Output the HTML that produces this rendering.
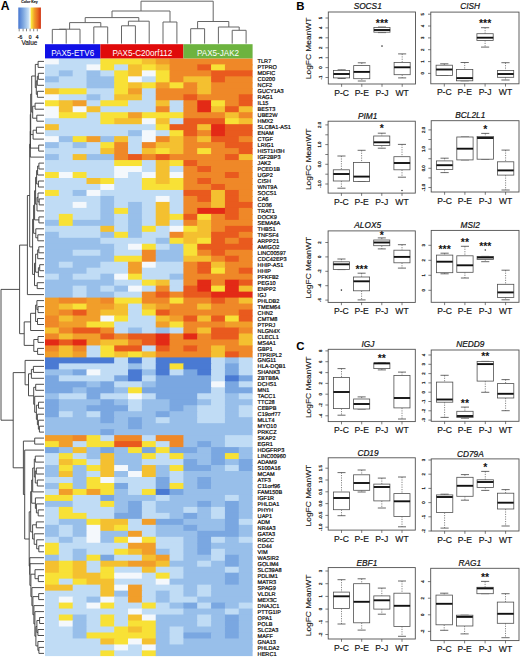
<!DOCTYPE html>
<html><head><meta charset="utf-8"><style>
html,body{margin:0;padding:0;background:#fff;width:520px;height:657px;overflow:hidden}
svg{display:block;font-family:"Liberation Sans",sans-serif}
</style></head><body>
<svg width="520" height="657" viewBox="0 0 520 657">
<rect width="520" height="657" fill="#fff"/>
<rect x="45.00" y="58.40" width="14.44" height="6.98" fill="#f4f8fc"/><rect x="58.84" y="58.40" width="42.12" height="6.98" fill="#c0dcf5"/><rect x="100.36" y="58.40" width="42.12" height="6.98" fill="#f8e136"/><rect x="141.88" y="58.40" width="14.44" height="6.98" fill="#f4c030"/><rect x="155.72" y="58.40" width="14.44" height="6.98" fill="#f19e2a"/><rect x="169.56" y="58.40" width="83.04" height="6.98" fill="#ef8828"/><rect x="45.00" y="64.38" width="42.12" height="6.98" fill="#c0dcf5"/><rect x="86.52" y="64.38" width="14.44" height="6.98" fill="#f4f8fc"/><rect x="100.36" y="64.38" width="14.44" height="6.98" fill="#f8e136"/><rect x="114.20" y="64.38" width="14.44" height="6.98" fill="#c0dcf5"/><rect x="128.04" y="64.38" width="14.44" height="6.98" fill="#f4c030"/><rect x="141.88" y="64.38" width="14.44" height="6.98" fill="#f8e136"/><rect x="155.72" y="64.38" width="14.44" height="6.98" fill="#f4c030"/><rect x="169.56" y="64.38" width="28.28" height="6.98" fill="#ef8828"/><rect x="197.24" y="64.38" width="14.44" height="6.98" fill="#e95a1e"/><rect x="211.08" y="64.38" width="14.44" height="6.98" fill="#f8e136"/><rect x="224.92" y="64.38" width="27.68" height="6.98" fill="#ef8828"/><rect x="45.00" y="70.36" width="14.44" height="6.98" fill="#c0dcf5"/><rect x="58.84" y="70.36" width="14.44" height="6.98" fill="#98bfea"/><rect x="72.68" y="70.36" width="14.44" height="6.98" fill="#c0dcf5"/><rect x="86.52" y="70.36" width="14.44" height="6.98" fill="#98bfea"/><rect x="100.36" y="70.36" width="14.44" height="6.98" fill="#c0dcf5"/><rect x="114.20" y="70.36" width="14.44" height="6.98" fill="#f8e136"/><rect x="128.04" y="70.36" width="14.44" height="6.98" fill="#f4c030"/><rect x="141.88" y="70.36" width="14.44" height="6.98" fill="#f4f8fc"/><rect x="155.72" y="70.36" width="14.44" height="6.98" fill="#f8e136"/><rect x="169.56" y="70.36" width="42.12" height="6.98" fill="#ef8828"/><rect x="211.08" y="70.36" width="41.52" height="6.98" fill="#e95a1e"/><rect x="45.00" y="76.34" width="14.44" height="6.98" fill="#98bfea"/><rect x="58.84" y="76.34" width="28.28" height="6.98" fill="#c0dcf5"/><rect x="86.52" y="76.34" width="28.28" height="6.98" fill="#98bfea"/><rect x="114.20" y="76.34" width="14.44" height="6.98" fill="#f8e136"/><rect x="128.04" y="76.34" width="14.44" height="6.98" fill="#f4f8fc"/><rect x="141.88" y="76.34" width="14.44" height="6.98" fill="#c0dcf5"/><rect x="155.72" y="76.34" width="14.44" height="6.98" fill="#f8e136"/><rect x="169.56" y="76.34" width="14.44" height="6.98" fill="#ef8828"/><rect x="183.40" y="76.34" width="28.28" height="6.98" fill="#f4c030"/><rect x="211.08" y="76.34" width="14.44" height="6.98" fill="#e95a1e"/><rect x="224.92" y="76.34" width="27.68" height="6.98" fill="#ef8828"/><rect x="45.00" y="82.32" width="42.12" height="6.98" fill="#c0dcf5"/><rect x="86.52" y="82.32" width="28.28" height="6.98" fill="#98bfea"/><rect x="114.20" y="82.32" width="14.44" height="6.98" fill="#f8e136"/><rect x="128.04" y="82.32" width="14.44" height="6.98" fill="#f4c030"/><rect x="141.88" y="82.32" width="14.44" height="6.98" fill="#f8e136"/><rect x="155.72" y="82.32" width="14.44" height="6.98" fill="#f19e2a"/><rect x="169.56" y="82.32" width="14.44" height="6.98" fill="#f8e136"/><rect x="183.40" y="82.32" width="14.44" height="6.98" fill="#ef8828"/><rect x="197.24" y="82.32" width="14.44" height="6.98" fill="#f4c030"/><rect x="211.08" y="82.32" width="41.52" height="6.98" fill="#ef8828"/><rect x="45.00" y="88.30" width="14.44" height="6.98" fill="#f4c030"/><rect x="58.84" y="88.30" width="28.28" height="6.98" fill="#f8e136"/><rect x="86.52" y="88.30" width="28.28" height="6.98" fill="#c0dcf5"/><rect x="114.20" y="88.30" width="14.44" height="6.98" fill="#f8e136"/><rect x="128.04" y="88.30" width="14.44" height="6.98" fill="#f19e2a"/><rect x="141.88" y="88.30" width="14.44" height="6.98" fill="#c0dcf5"/><rect x="155.72" y="88.30" width="42.12" height="6.98" fill="#ef8828"/><rect x="197.24" y="88.30" width="14.44" height="6.98" fill="#f4c030"/><rect x="211.08" y="88.30" width="41.52" height="6.98" fill="#ef8828"/><rect x="45.00" y="94.28" width="14.44" height="6.98" fill="#f4f8fc"/><rect x="58.84" y="94.28" width="28.28" height="6.98" fill="#c0dcf5"/><rect x="86.52" y="94.28" width="14.44" height="6.98" fill="#98bfea"/><rect x="100.36" y="94.28" width="14.44" height="6.98" fill="#c0dcf5"/><rect x="114.20" y="94.28" width="28.28" height="6.98" fill="#f4c030"/><rect x="141.88" y="94.28" width="14.44" height="6.98" fill="#c0dcf5"/><rect x="155.72" y="94.28" width="28.28" height="6.98" fill="#ef8828"/><rect x="183.40" y="94.28" width="14.44" height="6.98" fill="#e95a1e"/><rect x="197.24" y="94.28" width="42.12" height="6.98" fill="#ef8828"/><rect x="238.76" y="94.28" width="13.84" height="6.98" fill="#e95a1e"/><rect x="45.00" y="100.26" width="14.44" height="6.98" fill="#f8e136"/><rect x="58.84" y="100.26" width="14.44" height="6.98" fill="#f4c030"/><rect x="72.68" y="100.26" width="14.44" height="6.98" fill="#f19e2a"/><rect x="86.52" y="100.26" width="14.44" height="6.98" fill="#c0dcf5"/><rect x="100.36" y="100.26" width="28.28" height="6.98" fill="#f8e136"/><rect x="128.04" y="100.26" width="28.28" height="6.98" fill="#c0dcf5"/><rect x="155.72" y="100.26" width="14.44" height="6.98" fill="#f4c030"/><rect x="169.56" y="100.26" width="14.44" height="6.98" fill="#c0dcf5"/><rect x="183.40" y="100.26" width="14.44" height="6.98" fill="#ef8828"/><rect x="197.24" y="100.26" width="14.44" height="6.98" fill="#e32a16"/><rect x="211.08" y="100.26" width="14.44" height="6.98" fill="#f8e136"/><rect x="224.92" y="100.26" width="14.44" height="6.98" fill="#ef8828"/><rect x="238.76" y="100.26" width="13.84" height="6.98" fill="#e95a1e"/><rect x="45.00" y="106.24" width="14.44" height="6.98" fill="#f4f8fc"/><rect x="58.84" y="106.24" width="14.44" height="6.98" fill="#f4c030"/><rect x="72.68" y="106.24" width="14.44" height="6.98" fill="#f4f8fc"/><rect x="86.52" y="106.24" width="14.44" height="6.98" fill="#f4c030"/><rect x="100.36" y="106.24" width="55.96" height="6.98" fill="#c0dcf5"/><rect x="155.72" y="106.24" width="14.44" height="6.98" fill="#ef8828"/><rect x="169.56" y="106.24" width="14.44" height="6.98" fill="#c0dcf5"/><rect x="183.40" y="106.24" width="14.44" height="6.98" fill="#ef8828"/><rect x="197.24" y="106.24" width="14.44" height="6.98" fill="#e32a16"/><rect x="211.08" y="106.24" width="14.44" height="6.98" fill="#f4c030"/><rect x="224.92" y="106.24" width="14.44" height="6.98" fill="#e95a1e"/><rect x="238.76" y="106.24" width="13.84" height="6.98" fill="#f4c030"/><rect x="45.00" y="112.22" width="14.44" height="6.98" fill="#f4f8fc"/><rect x="58.84" y="112.22" width="28.28" height="6.98" fill="#f8e136"/><rect x="86.52" y="112.22" width="14.44" height="6.98" fill="#c0dcf5"/><rect x="100.36" y="112.22" width="28.28" height="6.98" fill="#f8e136"/><rect x="128.04" y="112.22" width="14.44" height="6.98" fill="#f19e2a"/><rect x="141.88" y="112.22" width="42.12" height="6.98" fill="#f8e136"/><rect x="183.40" y="112.22" width="42.12" height="6.98" fill="#ef8828"/><rect x="224.92" y="112.22" width="14.44" height="6.98" fill="#f4c030"/><rect x="238.76" y="112.22" width="13.84" height="6.98" fill="#ef8828"/><rect x="45.00" y="118.20" width="55.96" height="6.98" fill="#c0dcf5"/><rect x="100.36" y="118.20" width="14.44" height="6.98" fill="#f8e136"/><rect x="114.20" y="118.20" width="28.28" height="6.98" fill="#f4c030"/><rect x="141.88" y="118.20" width="14.44" height="6.98" fill="#f4f8fc"/><rect x="155.72" y="118.20" width="14.44" height="6.98" fill="#f4c030"/><rect x="169.56" y="118.20" width="14.44" height="6.98" fill="#c0dcf5"/><rect x="183.40" y="118.20" width="42.12" height="6.98" fill="#e95a1e"/><rect x="224.92" y="118.20" width="14.44" height="6.98" fill="#f8e136"/><rect x="238.76" y="118.20" width="13.84" height="6.98" fill="#f4c030"/><rect x="45.00" y="124.18" width="14.44" height="6.98" fill="#f4c030"/><rect x="58.84" y="124.18" width="97.48" height="6.98" fill="#c0dcf5"/><rect x="155.72" y="124.18" width="14.44" height="6.98" fill="#f8e136"/><rect x="169.56" y="124.18" width="28.28" height="6.98" fill="#e95a1e"/><rect x="197.24" y="124.18" width="14.44" height="6.98" fill="#f4c030"/><rect x="211.08" y="124.18" width="14.44" height="6.98" fill="#e32a16"/><rect x="224.92" y="124.18" width="27.68" height="6.98" fill="#e95a1e"/><rect x="45.00" y="130.16" width="83.64" height="6.98" fill="#c0dcf5"/><rect x="128.04" y="130.16" width="14.44" height="6.98" fill="#98bfea"/><rect x="141.88" y="130.16" width="14.44" height="6.98" fill="#f4f8fc"/><rect x="155.72" y="130.16" width="14.44" height="6.98" fill="#c0dcf5"/><rect x="169.56" y="130.16" width="14.44" height="6.98" fill="#f8e136"/><rect x="183.40" y="130.16" width="14.44" height="6.98" fill="#e95a1e"/><rect x="197.24" y="130.16" width="14.44" height="6.98" fill="#ef8828"/><rect x="211.08" y="130.16" width="14.44" height="6.98" fill="#e32a16"/><rect x="224.92" y="130.16" width="27.68" height="6.98" fill="#e95a1e"/><rect x="45.00" y="136.14" width="14.44" height="6.98" fill="#f4f8fc"/><rect x="58.84" y="136.14" width="14.44" height="6.98" fill="#98bfea"/><rect x="72.68" y="136.14" width="14.44" height="6.98" fill="#f8e136"/><rect x="86.52" y="136.14" width="14.44" height="6.98" fill="#f19e2a"/><rect x="100.36" y="136.14" width="14.44" height="6.98" fill="#98bfea"/><rect x="114.20" y="136.14" width="14.44" height="6.98" fill="#f4c030"/><rect x="128.04" y="136.14" width="14.44" height="6.98" fill="#c0dcf5"/><rect x="141.88" y="136.14" width="14.44" height="6.98" fill="#f4f8fc"/><rect x="155.72" y="136.14" width="14.44" height="6.98" fill="#ef8828"/><rect x="169.56" y="136.14" width="14.44" height="6.98" fill="#f4c030"/><rect x="183.40" y="136.14" width="14.44" height="6.98" fill="#ef8828"/><rect x="197.24" y="136.14" width="14.44" height="6.98" fill="#f4c030"/><rect x="211.08" y="136.14" width="28.28" height="6.98" fill="#e95a1e"/><rect x="238.76" y="136.14" width="13.84" height="6.98" fill="#ef8828"/><rect x="45.00" y="142.12" width="14.44" height="6.98" fill="#98bfea"/><rect x="58.84" y="142.12" width="14.44" height="6.98" fill="#c0dcf5"/><rect x="72.68" y="142.12" width="14.44" height="6.98" fill="#98bfea"/><rect x="86.52" y="142.12" width="14.44" height="6.98" fill="#c0dcf5"/><rect x="100.36" y="142.12" width="14.44" height="6.98" fill="#f8e136"/><rect x="114.20" y="142.12" width="14.44" height="6.98" fill="#ef8828"/><rect x="128.04" y="142.12" width="14.44" height="6.98" fill="#c0dcf5"/><rect x="141.88" y="142.12" width="14.44" height="6.98" fill="#ef8828"/><rect x="155.72" y="142.12" width="28.28" height="6.98" fill="#f4c030"/><rect x="183.40" y="142.12" width="42.12" height="6.98" fill="#ef8828"/><rect x="224.92" y="142.12" width="27.68" height="6.98" fill="#e95a1e"/><rect x="45.00" y="148.10" width="55.96" height="6.98" fill="#c0dcf5"/><rect x="100.36" y="148.10" width="14.44" height="6.98" fill="#f4c030"/><rect x="114.20" y="148.10" width="14.44" height="6.98" fill="#ef8828"/><rect x="128.04" y="148.10" width="14.44" height="6.98" fill="#c0dcf5"/><rect x="141.88" y="148.10" width="14.44" height="6.98" fill="#f4c030"/><rect x="155.72" y="148.10" width="14.44" height="6.98" fill="#f8e136"/><rect x="169.56" y="148.10" width="14.44" height="6.98" fill="#f4c030"/><rect x="183.40" y="148.10" width="14.44" height="6.98" fill="#ef8828"/><rect x="197.24" y="148.10" width="14.44" height="6.98" fill="#f8e136"/><rect x="211.08" y="148.10" width="28.28" height="6.98" fill="#ef8828"/><rect x="238.76" y="148.10" width="13.84" height="6.98" fill="#e95a1e"/><rect x="45.00" y="154.08" width="14.44" height="6.98" fill="#98bfea"/><rect x="58.84" y="154.08" width="14.44" height="6.98" fill="#c0dcf5"/><rect x="72.68" y="154.08" width="14.44" height="6.98" fill="#f4c030"/><rect x="86.52" y="154.08" width="28.28" height="6.98" fill="#98bfea"/><rect x="114.20" y="154.08" width="14.44" height="6.98" fill="#ef8828"/><rect x="128.04" y="154.08" width="14.44" height="6.98" fill="#e95a1e"/><rect x="141.88" y="154.08" width="14.44" height="6.98" fill="#ef8828"/><rect x="155.72" y="154.08" width="14.44" height="6.98" fill="#e95a1e"/><rect x="169.56" y="154.08" width="55.96" height="6.98" fill="#ef8828"/><rect x="224.92" y="154.08" width="14.44" height="6.98" fill="#e95a1e"/><rect x="238.76" y="154.08" width="13.84" height="6.98" fill="#f4c030"/><rect x="45.00" y="160.06" width="69.80" height="6.98" fill="#c0dcf5"/><rect x="114.20" y="160.06" width="28.28" height="6.98" fill="#f8e136"/><rect x="141.88" y="160.06" width="14.44" height="6.98" fill="#c0dcf5"/><rect x="155.72" y="160.06" width="14.44" height="6.98" fill="#f4c030"/><rect x="169.56" y="160.06" width="14.44" height="6.98" fill="#f8e136"/><rect x="183.40" y="160.06" width="14.44" height="6.98" fill="#e95a1e"/><rect x="197.24" y="160.06" width="55.36" height="6.98" fill="#ef8828"/><rect x="45.00" y="166.04" width="69.80" height="6.98" fill="#c0dcf5"/><rect x="114.20" y="166.04" width="28.28" height="6.98" fill="#f4f8fc"/><rect x="141.88" y="166.04" width="14.44" height="6.98" fill="#c0dcf5"/><rect x="155.72" y="166.04" width="14.44" height="6.98" fill="#f4c030"/><rect x="169.56" y="166.04" width="14.44" height="6.98" fill="#c0dcf5"/><rect x="183.40" y="166.04" width="14.44" height="6.98" fill="#ef8828"/><rect x="197.24" y="166.04" width="14.44" height="6.98" fill="#e95a1e"/><rect x="211.08" y="166.04" width="41.52" height="6.98" fill="#ef8828"/><rect x="45.00" y="172.02" width="14.44" height="6.98" fill="#f8e136"/><rect x="58.84" y="172.02" width="14.44" height="6.98" fill="#f4f8fc"/><rect x="72.68" y="172.02" width="14.44" height="6.98" fill="#f8e136"/><rect x="86.52" y="172.02" width="28.28" height="6.98" fill="#c0dcf5"/><rect x="114.20" y="172.02" width="14.44" height="6.98" fill="#f4f8fc"/><rect x="128.04" y="172.02" width="14.44" height="6.98" fill="#c0dcf5"/><rect x="141.88" y="172.02" width="14.44" height="6.98" fill="#f4f8fc"/><rect x="155.72" y="172.02" width="14.44" height="6.98" fill="#f4c030"/><rect x="169.56" y="172.02" width="14.44" height="6.98" fill="#f4f8fc"/><rect x="183.40" y="172.02" width="42.12" height="6.98" fill="#ef8828"/><rect x="224.92" y="172.02" width="14.44" height="6.98" fill="#e95a1e"/><rect x="238.76" y="172.02" width="13.84" height="6.98" fill="#ef8828"/><rect x="45.00" y="178.00" width="42.12" height="6.98" fill="#c0dcf5"/><rect x="86.52" y="178.00" width="14.44" height="6.98" fill="#f4c030"/><rect x="100.36" y="178.00" width="14.44" height="6.98" fill="#f8e136"/><rect x="114.20" y="178.00" width="28.28" height="6.98" fill="#c0dcf5"/><rect x="141.88" y="178.00" width="14.44" height="6.98" fill="#f8e136"/><rect x="155.72" y="178.00" width="14.44" height="6.98" fill="#f4c030"/><rect x="169.56" y="178.00" width="14.44" height="6.98" fill="#f8e136"/><rect x="183.40" y="178.00" width="14.44" height="6.98" fill="#ef8828"/><rect x="197.24" y="178.00" width="14.44" height="6.98" fill="#e95a1e"/><rect x="211.08" y="178.00" width="41.52" height="6.98" fill="#ef8828"/><rect x="45.00" y="183.98" width="55.96" height="6.98" fill="#c0dcf5"/><rect x="100.36" y="183.98" width="14.44" height="6.98" fill="#f4f8fc"/><rect x="114.20" y="183.98" width="28.28" height="6.98" fill="#c0dcf5"/><rect x="141.88" y="183.98" width="42.12" height="6.98" fill="#f8e136"/><rect x="183.40" y="183.98" width="28.28" height="6.98" fill="#ef8828"/><rect x="211.08" y="183.98" width="14.44" height="6.98" fill="#e95a1e"/><rect x="224.92" y="183.98" width="27.68" height="6.98" fill="#ef8828"/><rect x="45.00" y="189.96" width="14.44" height="6.98" fill="#f8e136"/><rect x="58.84" y="189.96" width="14.44" height="6.98" fill="#c0dcf5"/><rect x="72.68" y="189.96" width="14.44" height="6.98" fill="#98bfea"/><rect x="86.52" y="189.96" width="14.44" height="6.98" fill="#f4f8fc"/><rect x="100.36" y="189.96" width="83.64" height="6.98" fill="#c0dcf5"/><rect x="183.40" y="189.96" width="28.28" height="6.98" fill="#e95a1e"/><rect x="211.08" y="189.96" width="14.44" height="6.98" fill="#f4c030"/><rect x="224.92" y="189.96" width="14.44" height="6.98" fill="#e95a1e"/><rect x="238.76" y="189.96" width="13.84" height="6.98" fill="#ef8828"/><rect x="45.00" y="195.94" width="55.96" height="6.98" fill="#c0dcf5"/><rect x="100.36" y="195.94" width="14.44" height="6.98" fill="#98bfea"/><rect x="114.20" y="195.94" width="42.12" height="6.98" fill="#c0dcf5"/><rect x="155.72" y="195.94" width="14.44" height="6.98" fill="#f4f8fc"/><rect x="169.56" y="195.94" width="14.44" height="6.98" fill="#c0dcf5"/><rect x="183.40" y="195.94" width="14.44" height="6.98" fill="#ef8828"/><rect x="197.24" y="195.94" width="14.44" height="6.98" fill="#e95a1e"/><rect x="211.08" y="195.94" width="14.44" height="6.98" fill="#f4c030"/><rect x="224.92" y="195.94" width="14.44" height="6.98" fill="#e95a1e"/><rect x="238.76" y="195.94" width="13.84" height="6.98" fill="#ef8828"/><rect x="45.00" y="201.92" width="28.28" height="6.98" fill="#c0dcf5"/><rect x="72.68" y="201.92" width="14.44" height="6.98" fill="#f4f8fc"/><rect x="86.52" y="201.92" width="14.44" height="6.98" fill="#c0dcf5"/><rect x="100.36" y="201.92" width="14.44" height="6.98" fill="#98bfea"/><rect x="114.20" y="201.92" width="14.44" height="6.98" fill="#c0dcf5"/><rect x="128.04" y="201.92" width="14.44" height="6.98" fill="#98bfea"/><rect x="141.88" y="201.92" width="14.44" height="6.98" fill="#c0dcf5"/><rect x="155.72" y="201.92" width="14.44" height="6.98" fill="#f4c030"/><rect x="169.56" y="201.92" width="14.44" height="6.98" fill="#c0dcf5"/><rect x="183.40" y="201.92" width="28.28" height="6.98" fill="#ef8828"/><rect x="211.08" y="201.92" width="14.44" height="6.98" fill="#f4c030"/><rect x="224.92" y="201.92" width="27.68" height="6.98" fill="#e95a1e"/><rect x="45.00" y="207.90" width="55.96" height="6.98" fill="#c0dcf5"/><rect x="100.36" y="207.90" width="14.44" height="6.98" fill="#98bfea"/><rect x="114.20" y="207.90" width="14.44" height="6.98" fill="#f8e136"/><rect x="128.04" y="207.90" width="14.44" height="6.98" fill="#98bfea"/><rect x="141.88" y="207.90" width="14.44" height="6.98" fill="#c0dcf5"/><rect x="155.72" y="207.90" width="14.44" height="6.98" fill="#f4c030"/><rect x="169.56" y="207.90" width="14.44" height="6.98" fill="#c0dcf5"/><rect x="183.40" y="207.90" width="14.44" height="6.98" fill="#ef8828"/><rect x="197.24" y="207.90" width="28.28" height="6.98" fill="#e32a16"/><rect x="224.92" y="207.90" width="14.44" height="6.98" fill="#e95a1e"/><rect x="238.76" y="207.90" width="13.84" height="6.98" fill="#ef8828"/><rect x="45.00" y="213.88" width="14.44" height="6.98" fill="#c0dcf5"/><rect x="58.84" y="213.88" width="14.44" height="6.98" fill="#f8e136"/><rect x="72.68" y="213.88" width="28.28" height="6.98" fill="#c0dcf5"/><rect x="100.36" y="213.88" width="14.44" height="6.98" fill="#98bfea"/><rect x="114.20" y="213.88" width="14.44" height="6.98" fill="#c0dcf5"/><rect x="128.04" y="213.88" width="14.44" height="6.98" fill="#98bfea"/><rect x="141.88" y="213.88" width="14.44" height="6.98" fill="#c0dcf5"/><rect x="155.72" y="213.88" width="14.44" height="6.98" fill="#f4c030"/><rect x="169.56" y="213.88" width="14.44" height="6.98" fill="#f8e136"/><rect x="183.40" y="213.88" width="14.44" height="6.98" fill="#e95a1e"/><rect x="197.24" y="213.88" width="14.44" height="6.98" fill="#f8e136"/><rect x="211.08" y="213.88" width="14.44" height="6.98" fill="#ef8828"/><rect x="224.92" y="213.88" width="14.44" height="6.98" fill="#e95a1e"/><rect x="238.76" y="213.88" width="13.84" height="6.98" fill="#ef8828"/><rect x="45.00" y="219.86" width="14.44" height="6.98" fill="#98bfea"/><rect x="58.84" y="219.86" width="14.44" height="6.98" fill="#f8e136"/><rect x="72.68" y="219.86" width="42.12" height="6.98" fill="#98bfea"/><rect x="114.20" y="219.86" width="14.44" height="6.98" fill="#c0dcf5"/><rect x="128.04" y="219.86" width="14.44" height="6.98" fill="#98bfea"/><rect x="141.88" y="219.86" width="14.44" height="6.98" fill="#c0dcf5"/><rect x="155.72" y="219.86" width="14.44" height="6.98" fill="#f4c030"/><rect x="169.56" y="219.86" width="14.44" height="6.98" fill="#c0dcf5"/><rect x="183.40" y="219.86" width="14.44" height="6.98" fill="#ef8828"/><rect x="197.24" y="219.86" width="14.44" height="6.98" fill="#f4c030"/><rect x="211.08" y="219.86" width="41.52" height="6.98" fill="#ef8828"/><rect x="45.00" y="225.84" width="55.96" height="6.98" fill="#c0dcf5"/><rect x="100.36" y="225.84" width="14.44" height="6.98" fill="#f4c030"/><rect x="114.20" y="225.84" width="14.44" height="6.98" fill="#c0dcf5"/><rect x="128.04" y="225.84" width="14.44" height="6.98" fill="#98bfea"/><rect x="141.88" y="225.84" width="14.44" height="6.98" fill="#f8e136"/><rect x="155.72" y="225.84" width="14.44" height="6.98" fill="#c0dcf5"/><rect x="169.56" y="225.84" width="14.44" height="6.98" fill="#f4f8fc"/><rect x="183.40" y="225.84" width="14.44" height="6.98" fill="#f8e136"/><rect x="197.24" y="225.84" width="14.44" height="6.98" fill="#f4c030"/><rect x="211.08" y="225.84" width="14.44" height="6.98" fill="#ef8828"/><rect x="224.92" y="225.84" width="27.68" height="6.98" fill="#e95a1e"/><rect x="45.00" y="231.82" width="14.44" height="6.98" fill="#98bfea"/><rect x="58.84" y="231.82" width="42.12" height="6.98" fill="#c0dcf5"/><rect x="100.36" y="231.82" width="14.44" height="6.98" fill="#98bfea"/><rect x="114.20" y="231.82" width="14.44" height="6.98" fill="#f8e136"/><rect x="128.04" y="231.82" width="14.44" height="6.98" fill="#98bfea"/><rect x="141.88" y="231.82" width="28.28" height="6.98" fill="#c0dcf5"/><rect x="169.56" y="231.82" width="14.44" height="6.98" fill="#ef8828"/><rect x="183.40" y="231.82" width="28.28" height="6.98" fill="#f4c030"/><rect x="211.08" y="231.82" width="28.28" height="6.98" fill="#e95a1e"/><rect x="238.76" y="231.82" width="13.84" height="6.98" fill="#ef8828"/><rect x="45.00" y="237.80" width="55.96" height="6.98" fill="#98bfea"/><rect x="100.36" y="237.80" width="55.96" height="6.98" fill="#c0dcf5"/><rect x="155.72" y="237.80" width="14.44" height="6.98" fill="#98bfea"/><rect x="169.56" y="237.80" width="14.44" height="6.98" fill="#f8e136"/><rect x="183.40" y="237.80" width="14.44" height="6.98" fill="#f4c030"/><rect x="197.24" y="237.80" width="14.44" height="6.98" fill="#f8e136"/><rect x="211.08" y="237.80" width="14.44" height="6.98" fill="#e95a1e"/><rect x="224.92" y="237.80" width="14.44" height="6.98" fill="#ef8828"/><rect x="238.76" y="237.80" width="13.84" height="6.98" fill="#e95a1e"/><rect x="45.00" y="243.78" width="69.80" height="6.98" fill="#98bfea"/><rect x="114.20" y="243.78" width="14.44" height="6.98" fill="#c0dcf5"/><rect x="128.04" y="243.78" width="14.44" height="6.98" fill="#f4f8fc"/><rect x="141.88" y="243.78" width="14.44" height="6.98" fill="#f8e136"/><rect x="155.72" y="243.78" width="14.44" height="6.98" fill="#c0dcf5"/><rect x="169.56" y="243.78" width="14.44" height="6.98" fill="#98bfea"/><rect x="183.40" y="243.78" width="14.44" height="6.98" fill="#f8e136"/><rect x="197.24" y="243.78" width="55.36" height="6.98" fill="#e95a1e"/><rect x="45.00" y="249.76" width="28.28" height="6.98" fill="#98bfea"/><rect x="72.68" y="249.76" width="28.28" height="6.98" fill="#c0dcf5"/><rect x="100.36" y="249.76" width="14.44" height="6.98" fill="#98bfea"/><rect x="114.20" y="249.76" width="28.28" height="6.98" fill="#c0dcf5"/><rect x="141.88" y="249.76" width="14.44" height="6.98" fill="#ef8828"/><rect x="155.72" y="249.76" width="28.28" height="6.98" fill="#98bfea"/><rect x="183.40" y="249.76" width="14.44" height="6.98" fill="#f8e136"/><rect x="197.24" y="249.76" width="14.44" height="6.98" fill="#ef8828"/><rect x="211.08" y="249.76" width="14.44" height="6.98" fill="#e95a1e"/><rect x="224.92" y="249.76" width="27.68" height="6.98" fill="#ef8828"/><rect x="45.00" y="255.74" width="69.80" height="6.98" fill="#98bfea"/><rect x="114.20" y="255.74" width="28.28" height="6.98" fill="#f8e136"/><rect x="141.88" y="255.74" width="14.44" height="6.98" fill="#ef8828"/><rect x="155.72" y="255.74" width="28.28" height="6.98" fill="#98bfea"/><rect x="183.40" y="255.74" width="28.28" height="6.98" fill="#f4c030"/><rect x="211.08" y="255.74" width="14.44" height="6.98" fill="#ef8828"/><rect x="224.92" y="255.74" width="14.44" height="6.98" fill="#e95a1e"/><rect x="238.76" y="255.74" width="13.84" height="6.98" fill="#ef8828"/><rect x="45.00" y="261.72" width="14.44" height="6.98" fill="#98bfea"/><rect x="58.84" y="261.72" width="14.44" height="6.98" fill="#c0dcf5"/><rect x="72.68" y="261.72" width="28.28" height="6.98" fill="#98bfea"/><rect x="100.36" y="261.72" width="28.28" height="6.98" fill="#c0dcf5"/><rect x="128.04" y="261.72" width="14.44" height="6.98" fill="#f19e2a"/><rect x="141.88" y="261.72" width="14.44" height="6.98" fill="#f4f8fc"/><rect x="155.72" y="261.72" width="28.28" height="6.98" fill="#c0dcf5"/><rect x="183.40" y="261.72" width="14.44" height="6.98" fill="#ef8828"/><rect x="197.24" y="261.72" width="14.44" height="6.98" fill="#e95a1e"/><rect x="211.08" y="261.72" width="14.44" height="6.98" fill="#f4c030"/><rect x="224.92" y="261.72" width="27.68" height="6.98" fill="#ef8828"/><rect x="45.00" y="267.70" width="42.12" height="6.98" fill="#98bfea"/><rect x="86.52" y="267.70" width="42.12" height="6.98" fill="#c0dcf5"/><rect x="128.04" y="267.70" width="14.44" height="6.98" fill="#f19e2a"/><rect x="141.88" y="267.70" width="42.12" height="6.98" fill="#c0dcf5"/><rect x="183.40" y="267.70" width="14.44" height="6.98" fill="#ef8828"/><rect x="197.24" y="267.70" width="14.44" height="6.98" fill="#e95a1e"/><rect x="211.08" y="267.70" width="14.44" height="6.98" fill="#f8e136"/><rect x="224.92" y="267.70" width="14.44" height="6.98" fill="#ef8828"/><rect x="238.76" y="267.70" width="13.84" height="6.98" fill="#e95a1e"/><rect x="45.00" y="273.68" width="14.44" height="6.98" fill="#c0dcf5"/><rect x="58.84" y="273.68" width="14.44" height="6.98" fill="#98bfea"/><rect x="72.68" y="273.68" width="28.28" height="6.98" fill="#c0dcf5"/><rect x="100.36" y="273.68" width="14.44" height="6.98" fill="#98bfea"/><rect x="114.20" y="273.68" width="14.44" height="6.98" fill="#f4f8fc"/><rect x="128.04" y="273.68" width="14.44" height="6.98" fill="#f8e136"/><rect x="141.88" y="273.68" width="28.28" height="6.98" fill="#c0dcf5"/><rect x="169.56" y="273.68" width="14.44" height="6.98" fill="#98bfea"/><rect x="183.40" y="273.68" width="69.20" height="6.98" fill="#ef8828"/><rect x="45.00" y="279.66" width="69.80" height="6.98" fill="#98bfea"/><rect x="114.20" y="279.66" width="28.28" height="6.98" fill="#c0dcf5"/><rect x="141.88" y="279.66" width="14.44" height="6.98" fill="#f8e136"/><rect x="155.72" y="279.66" width="14.44" height="6.98" fill="#f4c030"/><rect x="169.56" y="279.66" width="14.44" height="6.98" fill="#c0dcf5"/><rect x="183.40" y="279.66" width="14.44" height="6.98" fill="#ef8828"/><rect x="197.24" y="279.66" width="14.44" height="6.98" fill="#e32a16"/><rect x="211.08" y="279.66" width="14.44" height="6.98" fill="#ef8828"/><rect x="224.92" y="279.66" width="14.44" height="6.98" fill="#e32a16"/><rect x="238.76" y="279.66" width="13.84" height="6.98" fill="#e95a1e"/><rect x="45.00" y="285.64" width="28.28" height="6.98" fill="#98bfea"/><rect x="72.68" y="285.64" width="14.44" height="6.98" fill="#c0dcf5"/><rect x="86.52" y="285.64" width="14.44" height="6.98" fill="#98bfea"/><rect x="100.36" y="285.64" width="14.44" height="6.98" fill="#c0dcf5"/><rect x="114.20" y="285.64" width="14.44" height="6.98" fill="#98bfea"/><rect x="128.04" y="285.64" width="14.44" height="6.98" fill="#f4f8fc"/><rect x="141.88" y="285.64" width="14.44" height="6.98" fill="#c0dcf5"/><rect x="155.72" y="285.64" width="14.44" height="6.98" fill="#ef8828"/><rect x="169.56" y="285.64" width="14.44" height="6.98" fill="#c0dcf5"/><rect x="183.40" y="285.64" width="14.44" height="6.98" fill="#e95a1e"/><rect x="197.24" y="285.64" width="14.44" height="6.98" fill="#e32a16"/><rect x="211.08" y="285.64" width="14.44" height="6.98" fill="#f8e136"/><rect x="224.92" y="285.64" width="14.44" height="6.98" fill="#e32a16"/><rect x="238.76" y="285.64" width="13.84" height="6.98" fill="#f4c030"/><rect x="45.00" y="291.62" width="28.28" height="6.98" fill="#98bfea"/><rect x="72.68" y="291.62" width="14.44" height="6.98" fill="#c0dcf5"/><rect x="86.52" y="291.62" width="28.28" height="6.98" fill="#98bfea"/><rect x="114.20" y="291.62" width="28.28" height="6.98" fill="#c0dcf5"/><rect x="141.88" y="291.62" width="14.44" height="6.98" fill="#ef8828"/><rect x="155.72" y="291.62" width="14.44" height="6.98" fill="#e95a1e"/><rect x="169.56" y="291.62" width="14.44" height="6.98" fill="#ef8828"/><rect x="183.40" y="291.62" width="28.28" height="6.98" fill="#e95a1e"/><rect x="211.08" y="291.62" width="41.52" height="6.98" fill="#e32a16"/><rect x="45.00" y="297.60" width="14.44" height="6.98" fill="#f19e2a"/><rect x="58.84" y="297.60" width="28.28" height="6.98" fill="#ef8828"/><rect x="86.52" y="297.60" width="14.44" height="6.98" fill="#f19e2a"/><rect x="100.36" y="297.60" width="14.44" height="6.98" fill="#ef8828"/><rect x="114.20" y="297.60" width="28.28" height="6.98" fill="#f8e136"/><rect x="141.88" y="297.60" width="28.28" height="6.98" fill="#ef8828"/><rect x="169.56" y="297.60" width="14.44" height="6.98" fill="#f8e136"/><rect x="183.40" y="297.60" width="28.28" height="6.98" fill="#ef8828"/><rect x="211.08" y="297.60" width="14.44" height="6.98" fill="#e95a1e"/><rect x="224.92" y="297.60" width="14.44" height="6.98" fill="#ef8828"/><rect x="238.76" y="297.60" width="13.84" height="6.98" fill="#f4c030"/><rect x="45.00" y="303.58" width="14.44" height="6.98" fill="#f19e2a"/><rect x="58.84" y="303.58" width="14.44" height="6.98" fill="#f4c030"/><rect x="72.68" y="303.58" width="14.44" height="6.98" fill="#f8e136"/><rect x="86.52" y="303.58" width="28.28" height="6.98" fill="#f19e2a"/><rect x="114.20" y="303.58" width="14.44" height="6.98" fill="#f4c030"/><rect x="128.04" y="303.58" width="14.44" height="6.98" fill="#c0dcf5"/><rect x="141.88" y="303.58" width="14.44" height="6.98" fill="#f4c030"/><rect x="155.72" y="303.58" width="14.44" height="6.98" fill="#f19e2a"/><rect x="169.56" y="303.58" width="28.28" height="6.98" fill="#ef8828"/><rect x="197.24" y="303.58" width="14.44" height="6.98" fill="#f4c030"/><rect x="211.08" y="303.58" width="41.52" height="6.98" fill="#ef8828"/><rect x="45.00" y="309.56" width="14.44" height="6.98" fill="#f19e2a"/><rect x="58.84" y="309.56" width="14.44" height="6.98" fill="#ef8828"/><rect x="72.68" y="309.56" width="14.44" height="6.98" fill="#e95a1e"/><rect x="86.52" y="309.56" width="14.44" height="6.98" fill="#f19e2a"/><rect x="100.36" y="309.56" width="28.28" height="6.98" fill="#f4c030"/><rect x="128.04" y="309.56" width="14.44" height="6.98" fill="#c0dcf5"/><rect x="141.88" y="309.56" width="14.44" height="6.98" fill="#f8e136"/><rect x="155.72" y="309.56" width="14.44" height="6.98" fill="#e95a1e"/><rect x="169.56" y="309.56" width="69.80" height="6.98" fill="#ef8828"/><rect x="238.76" y="309.56" width="13.84" height="6.98" fill="#e95a1e"/><rect x="45.00" y="315.54" width="14.44" height="6.98" fill="#ef8828"/><rect x="58.84" y="315.54" width="14.44" height="6.98" fill="#f4c030"/><rect x="72.68" y="315.54" width="28.28" height="6.98" fill="#f19e2a"/><rect x="100.36" y="315.54" width="14.44" height="6.98" fill="#f4f8fc"/><rect x="114.20" y="315.54" width="14.44" height="6.98" fill="#f8e136"/><rect x="128.04" y="315.54" width="28.28" height="6.98" fill="#c0dcf5"/><rect x="155.72" y="315.54" width="14.44" height="6.98" fill="#f4c030"/><rect x="169.56" y="315.54" width="14.44" height="6.98" fill="#f19e2a"/><rect x="183.40" y="315.54" width="14.44" height="6.98" fill="#e95a1e"/><rect x="197.24" y="315.54" width="14.44" height="6.98" fill="#f4c030"/><rect x="211.08" y="315.54" width="14.44" height="6.98" fill="#e95a1e"/><rect x="224.92" y="315.54" width="14.44" height="6.98" fill="#f8e136"/><rect x="238.76" y="315.54" width="13.84" height="6.98" fill="#e95a1e"/><rect x="45.00" y="321.52" width="14.44" height="6.98" fill="#ef8828"/><rect x="58.84" y="321.52" width="28.28" height="6.98" fill="#f19e2a"/><rect x="86.52" y="321.52" width="28.28" height="6.98" fill="#f8e136"/><rect x="114.20" y="321.52" width="42.12" height="6.98" fill="#c0dcf5"/><rect x="155.72" y="321.52" width="14.44" height="6.98" fill="#f19e2a"/><rect x="169.56" y="321.52" width="14.44" height="6.98" fill="#f8e136"/><rect x="183.40" y="321.52" width="42.12" height="6.98" fill="#ef8828"/><rect x="224.92" y="321.52" width="27.68" height="6.98" fill="#f19e2a"/><rect x="45.00" y="327.50" width="14.44" height="6.98" fill="#f4c030"/><rect x="58.84" y="327.50" width="14.44" height="6.98" fill="#ef8828"/><rect x="72.68" y="327.50" width="28.28" height="6.98" fill="#e95a1e"/><rect x="100.36" y="327.50" width="14.44" height="6.98" fill="#ef8828"/><rect x="114.20" y="327.50" width="14.44" height="6.98" fill="#c0dcf5"/><rect x="128.04" y="327.50" width="14.44" height="6.98" fill="#98bfea"/><rect x="141.88" y="327.50" width="14.44" height="6.98" fill="#c0dcf5"/><rect x="155.72" y="327.50" width="14.44" height="6.98" fill="#98bfea"/><rect x="169.56" y="327.50" width="14.44" height="6.98" fill="#c0dcf5"/><rect x="183.40" y="327.50" width="14.44" height="6.98" fill="#ef8828"/><rect x="197.24" y="327.50" width="14.44" height="6.98" fill="#f4c030"/><rect x="211.08" y="327.50" width="28.28" height="6.98" fill="#e95a1e"/><rect x="238.76" y="327.50" width="13.84" height="6.98" fill="#ef8828"/><rect x="45.00" y="333.48" width="14.44" height="6.98" fill="#ef8828"/><rect x="58.84" y="333.48" width="14.44" height="6.98" fill="#f4c030"/><rect x="72.68" y="333.48" width="28.28" height="6.98" fill="#f19e2a"/><rect x="100.36" y="333.48" width="14.44" height="6.98" fill="#e95a1e"/><rect x="114.20" y="333.48" width="14.44" height="6.98" fill="#ef8828"/><rect x="128.04" y="333.48" width="28.28" height="6.98" fill="#e95a1e"/><rect x="155.72" y="333.48" width="14.44" height="6.98" fill="#e32a16"/><rect x="169.56" y="333.48" width="14.44" height="6.98" fill="#ef8828"/><rect x="183.40" y="333.48" width="14.44" height="6.98" fill="#e32a16"/><rect x="197.24" y="333.48" width="14.44" height="6.98" fill="#ef8828"/><rect x="211.08" y="333.48" width="28.28" height="6.98" fill="#e95a1e"/><rect x="238.76" y="333.48" width="13.84" height="6.98" fill="#f4c030"/><rect x="45.00" y="339.46" width="14.44" height="6.98" fill="#e32a16"/><rect x="58.84" y="339.46" width="14.44" height="6.98" fill="#e95a1e"/><rect x="72.68" y="339.46" width="14.44" height="6.98" fill="#e32a16"/><rect x="86.52" y="339.46" width="14.44" height="6.98" fill="#f19e2a"/><rect x="100.36" y="339.46" width="28.28" height="6.98" fill="#f4c030"/><rect x="128.04" y="339.46" width="14.44" height="6.98" fill="#ef8828"/><rect x="141.88" y="339.46" width="14.44" height="6.98" fill="#e95a1e"/><rect x="155.72" y="339.46" width="14.44" height="6.98" fill="#e32a16"/><rect x="169.56" y="339.46" width="69.80" height="6.98" fill="#ef8828"/><rect x="238.76" y="339.46" width="13.84" height="6.98" fill="#f4c030"/><rect x="45.00" y="345.44" width="14.44" height="6.98" fill="#ef8828"/><rect x="58.84" y="345.44" width="14.44" height="6.98" fill="#f4c030"/><rect x="72.68" y="345.44" width="14.44" height="6.98" fill="#ef8828"/><rect x="86.52" y="345.44" width="14.44" height="6.98" fill="#c0dcf5"/><rect x="100.36" y="345.44" width="14.44" height="6.98" fill="#f8e136"/><rect x="114.20" y="345.44" width="28.28" height="6.98" fill="#e95a1e"/><rect x="141.88" y="345.44" width="14.44" height="6.98" fill="#c0dcf5"/><rect x="155.72" y="345.44" width="14.44" height="6.98" fill="#e95a1e"/><rect x="169.56" y="345.44" width="14.44" height="6.98" fill="#ef8828"/><rect x="183.40" y="345.44" width="14.44" height="6.98" fill="#e95a1e"/><rect x="197.24" y="345.44" width="14.44" height="6.98" fill="#ef8828"/><rect x="211.08" y="345.44" width="14.44" height="6.98" fill="#f4c030"/><rect x="224.92" y="345.44" width="27.68" height="6.98" fill="#ef8828"/><rect x="45.00" y="351.42" width="14.44" height="6.98" fill="#f19e2a"/><rect x="58.84" y="351.42" width="14.44" height="6.98" fill="#f4c030"/><rect x="72.68" y="351.42" width="14.44" height="6.98" fill="#f19e2a"/><rect x="86.52" y="351.42" width="14.44" height="6.98" fill="#c0dcf5"/><rect x="100.36" y="351.42" width="14.44" height="6.98" fill="#f8e136"/><rect x="114.20" y="351.42" width="14.44" height="6.98" fill="#f4c030"/><rect x="128.04" y="351.42" width="14.44" height="6.98" fill="#f8e136"/><rect x="141.88" y="351.42" width="14.44" height="6.98" fill="#f4c030"/><rect x="155.72" y="351.42" width="55.96" height="6.98" fill="#ef8828"/><rect x="211.08" y="351.42" width="14.44" height="6.98" fill="#f4c030"/><rect x="224.92" y="351.42" width="14.44" height="6.98" fill="#e95a1e"/><rect x="238.76" y="351.42" width="13.84" height="6.98" fill="#ef8828"/><rect x="45.00" y="357.40" width="69.80" height="6.98" fill="#4a7ad3"/><rect x="114.20" y="357.40" width="14.44" height="6.98" fill="#c0dcf5"/><rect x="128.04" y="357.40" width="14.44" height="6.98" fill="#4a7ad3"/><rect x="141.88" y="357.40" width="14.44" height="6.98" fill="#c0dcf5"/><rect x="155.72" y="357.40" width="55.96" height="6.98" fill="#4a7ad3"/><rect x="211.08" y="357.40" width="14.44" height="6.98" fill="#c0dcf5"/><rect x="224.92" y="357.40" width="14.44" height="6.98" fill="#98bfea"/><rect x="238.76" y="357.40" width="13.84" height="6.98" fill="#c0dcf5"/><rect x="45.00" y="363.38" width="14.44" height="6.98" fill="#4a7ad3"/><rect x="58.84" y="363.38" width="69.80" height="6.98" fill="#c0dcf5"/><rect x="128.04" y="363.38" width="14.44" height="6.98" fill="#98bfea"/><rect x="141.88" y="363.38" width="14.44" height="6.98" fill="#c0dcf5"/><rect x="155.72" y="363.38" width="14.44" height="6.98" fill="#4a7ad3"/><rect x="169.56" y="363.38" width="14.44" height="6.98" fill="#f8e136"/><rect x="183.40" y="363.38" width="28.28" height="6.98" fill="#4a7ad3"/><rect x="211.08" y="363.38" width="14.44" height="6.98" fill="#c0dcf5"/><rect x="224.92" y="363.38" width="14.44" height="6.98" fill="#7aa7e1"/><rect x="238.76" y="363.38" width="13.84" height="6.98" fill="#c0dcf5"/><rect x="45.00" y="369.36" width="28.28" height="6.98" fill="#98bfea"/><rect x="72.68" y="369.36" width="14.44" height="6.98" fill="#7aa7e1"/><rect x="86.52" y="369.36" width="14.44" height="6.98" fill="#f4f8fc"/><rect x="100.36" y="369.36" width="28.28" height="6.98" fill="#c0dcf5"/><rect x="128.04" y="369.36" width="14.44" height="6.98" fill="#4a7ad3"/><rect x="141.88" y="369.36" width="14.44" height="6.98" fill="#98bfea"/><rect x="155.72" y="369.36" width="14.44" height="6.98" fill="#4a7ad3"/><rect x="169.56" y="369.36" width="14.44" height="6.98" fill="#c0dcf5"/><rect x="183.40" y="369.36" width="14.44" height="6.98" fill="#7aa7e1"/><rect x="197.24" y="369.36" width="14.44" height="6.98" fill="#4a7ad3"/><rect x="211.08" y="369.36" width="14.44" height="6.98" fill="#c0dcf5"/><rect x="224.92" y="369.36" width="14.44" height="6.98" fill="#7aa7e1"/><rect x="238.76" y="369.36" width="13.84" height="6.98" fill="#c0dcf5"/><rect x="45.00" y="375.34" width="14.44" height="6.98" fill="#7aa7e1"/><rect x="58.84" y="375.34" width="55.96" height="6.98" fill="#c0dcf5"/><rect x="114.20" y="375.34" width="14.44" height="6.98" fill="#7aa7e1"/><rect x="128.04" y="375.34" width="14.44" height="6.98" fill="#4a7ad3"/><rect x="141.88" y="375.34" width="14.44" height="6.98" fill="#c0dcf5"/><rect x="155.72" y="375.34" width="55.96" height="6.98" fill="#7aa7e1"/><rect x="211.08" y="375.34" width="14.44" height="6.98" fill="#c0dcf5"/><rect x="224.92" y="375.34" width="14.44" height="6.98" fill="#4a7ad3"/><rect x="238.76" y="375.34" width="13.84" height="6.98" fill="#7aa7e1"/><rect x="45.00" y="381.32" width="42.12" height="6.98" fill="#7aa7e1"/><rect x="86.52" y="381.32" width="14.44" height="6.98" fill="#98bfea"/><rect x="100.36" y="381.32" width="14.44" height="6.98" fill="#7aa7e1"/><rect x="114.20" y="381.32" width="28.28" height="6.98" fill="#c0dcf5"/><rect x="141.88" y="381.32" width="14.44" height="6.98" fill="#98bfea"/><rect x="155.72" y="381.32" width="55.96" height="6.98" fill="#7aa7e1"/><rect x="211.08" y="381.32" width="14.44" height="6.98" fill="#f4f8fc"/><rect x="224.92" y="381.32" width="14.44" height="6.98" fill="#7aa7e1"/><rect x="238.76" y="381.32" width="13.84" height="6.98" fill="#c0dcf5"/><rect x="45.00" y="387.30" width="28.28" height="6.98" fill="#7aa7e1"/><rect x="72.68" y="387.30" width="14.44" height="6.98" fill="#98bfea"/><rect x="86.52" y="387.30" width="28.28" height="6.98" fill="#7aa7e1"/><rect x="114.20" y="387.30" width="14.44" height="6.98" fill="#98bfea"/><rect x="128.04" y="387.30" width="14.44" height="6.98" fill="#f8e136"/><rect x="141.88" y="387.30" width="69.80" height="6.98" fill="#7aa7e1"/><rect x="211.08" y="387.30" width="14.44" height="6.98" fill="#c0dcf5"/><rect x="224.92" y="387.30" width="27.68" height="6.98" fill="#7aa7e1"/><rect x="45.00" y="393.28" width="14.44" height="6.98" fill="#98bfea"/><rect x="58.84" y="393.28" width="28.28" height="6.98" fill="#c0dcf5"/><rect x="86.52" y="393.28" width="14.44" height="6.98" fill="#7aa7e1"/><rect x="100.36" y="393.28" width="28.28" height="6.98" fill="#c0dcf5"/><rect x="128.04" y="393.28" width="14.44" height="6.98" fill="#f4f8fc"/><rect x="141.88" y="393.28" width="14.44" height="6.98" fill="#c0dcf5"/><rect x="155.72" y="393.28" width="42.12" height="6.98" fill="#7aa7e1"/><rect x="197.24" y="393.28" width="28.28" height="6.98" fill="#c0dcf5"/><rect x="224.92" y="393.28" width="14.44" height="6.98" fill="#98bfea"/><rect x="238.76" y="393.28" width="13.84" height="6.98" fill="#c0dcf5"/><rect x="45.00" y="399.26" width="14.44" height="6.98" fill="#7aa7e1"/><rect x="58.84" y="399.26" width="42.12" height="6.98" fill="#98bfea"/><rect x="100.36" y="399.26" width="14.44" height="6.98" fill="#7aa7e1"/><rect x="114.20" y="399.26" width="14.44" height="6.98" fill="#98bfea"/><rect x="128.04" y="399.26" width="14.44" height="6.98" fill="#c0dcf5"/><rect x="141.88" y="399.26" width="28.28" height="6.98" fill="#98bfea"/><rect x="169.56" y="399.26" width="28.28" height="6.98" fill="#7aa7e1"/><rect x="197.24" y="399.26" width="14.44" height="6.98" fill="#98bfea"/><rect x="211.08" y="399.26" width="14.44" height="6.98" fill="#c0dcf5"/><rect x="224.92" y="399.26" width="27.68" height="6.98" fill="#98bfea"/><rect x="45.00" y="405.24" width="14.44" height="6.98" fill="#7aa7e1"/><rect x="58.84" y="405.24" width="28.28" height="6.98" fill="#98bfea"/><rect x="86.52" y="405.24" width="42.12" height="6.98" fill="#7aa7e1"/><rect x="128.04" y="405.24" width="14.44" height="6.98" fill="#c0dcf5"/><rect x="141.88" y="405.24" width="28.28" height="6.98" fill="#98bfea"/><rect x="169.56" y="405.24" width="14.44" height="6.98" fill="#7aa7e1"/><rect x="183.40" y="405.24" width="14.44" height="6.98" fill="#98bfea"/><rect x="197.24" y="405.24" width="28.28" height="6.98" fill="#c0dcf5"/><rect x="224.92" y="405.24" width="14.44" height="6.98" fill="#98bfea"/><rect x="238.76" y="405.24" width="13.84" height="6.98" fill="#c0dcf5"/><rect x="45.00" y="411.22" width="14.44" height="6.98" fill="#7aa7e1"/><rect x="58.84" y="411.22" width="14.44" height="6.98" fill="#c0dcf5"/><rect x="72.68" y="411.22" width="14.44" height="6.98" fill="#98bfea"/><rect x="86.52" y="411.22" width="14.44" height="6.98" fill="#c0dcf5"/><rect x="100.36" y="411.22" width="14.44" height="6.98" fill="#7aa7e1"/><rect x="114.20" y="411.22" width="42.12" height="6.98" fill="#98bfea"/><rect x="155.72" y="411.22" width="14.44" height="6.98" fill="#7aa7e1"/><rect x="169.56" y="411.22" width="28.28" height="6.98" fill="#98bfea"/><rect x="197.24" y="411.22" width="28.28" height="6.98" fill="#c0dcf5"/><rect x="224.92" y="411.22" width="14.44" height="6.98" fill="#98bfea"/><rect x="238.76" y="411.22" width="13.84" height="6.98" fill="#c0dcf5"/><rect x="45.00" y="417.20" width="55.96" height="6.98" fill="#98bfea"/><rect x="100.36" y="417.20" width="14.44" height="6.98" fill="#7aa7e1"/><rect x="114.20" y="417.20" width="14.44" height="6.98" fill="#98bfea"/><rect x="128.04" y="417.20" width="14.44" height="6.98" fill="#7aa7e1"/><rect x="141.88" y="417.20" width="14.44" height="6.98" fill="#98bfea"/><rect x="155.72" y="417.20" width="14.44" height="6.98" fill="#c0dcf5"/><rect x="169.56" y="417.20" width="28.28" height="6.98" fill="#98bfea"/><rect x="197.24" y="417.20" width="28.28" height="6.98" fill="#c0dcf5"/><rect x="224.92" y="417.20" width="27.68" height="6.98" fill="#98bfea"/><rect x="45.00" y="423.18" width="83.64" height="6.98" fill="#98bfea"/><rect x="128.04" y="423.18" width="14.44" height="6.98" fill="#7aa7e1"/><rect x="141.88" y="423.18" width="110.72" height="6.98" fill="#98bfea"/><rect x="45.00" y="429.16" width="55.96" height="6.98" fill="#98bfea"/><rect x="100.36" y="429.16" width="14.44" height="6.98" fill="#7aa7e1"/><rect x="114.20" y="429.16" width="138.40" height="6.98" fill="#98bfea"/><rect x="45.00" y="435.14" width="28.28" height="6.98" fill="#f19e2a"/><rect x="72.68" y="435.14" width="14.44" height="6.98" fill="#ef8828"/><rect x="86.52" y="435.14" width="14.44" height="6.98" fill="#f8e136"/><rect x="100.36" y="435.14" width="14.44" height="6.98" fill="#c0dcf5"/><rect x="114.20" y="435.14" width="28.28" height="6.98" fill="#ef8828"/><rect x="141.88" y="435.14" width="14.44" height="6.98" fill="#c0dcf5"/><rect x="155.72" y="435.14" width="28.28" height="6.98" fill="#ef8828"/><rect x="183.40" y="435.14" width="42.12" height="6.98" fill="#98bfea"/><rect x="224.92" y="435.14" width="27.68" height="6.98" fill="#c0dcf5"/><rect x="45.00" y="441.12" width="14.44" height="6.98" fill="#f8e136"/><rect x="58.84" y="441.12" width="14.44" height="6.98" fill="#f19e2a"/><rect x="72.68" y="441.12" width="14.44" height="6.98" fill="#c0dcf5"/><rect x="86.52" y="441.12" width="28.28" height="6.98" fill="#f8e136"/><rect x="114.20" y="441.12" width="28.28" height="6.98" fill="#e95a1e"/><rect x="141.88" y="441.12" width="14.44" height="6.98" fill="#f8e136"/><rect x="155.72" y="441.12" width="14.44" height="6.98" fill="#c0dcf5"/><rect x="169.56" y="441.12" width="14.44" height="6.98" fill="#ef8828"/><rect x="183.40" y="441.12" width="14.44" height="6.98" fill="#98bfea"/><rect x="197.24" y="441.12" width="14.44" height="6.98" fill="#7aa7e1"/><rect x="211.08" y="441.12" width="14.44" height="6.98" fill="#98bfea"/><rect x="224.92" y="441.12" width="27.68" height="6.98" fill="#c0dcf5"/><rect x="45.00" y="447.10" width="14.44" height="6.98" fill="#7aa7e1"/><rect x="58.84" y="447.10" width="14.44" height="6.98" fill="#98bfea"/><rect x="72.68" y="447.10" width="14.44" height="6.98" fill="#f4c030"/><rect x="86.52" y="447.10" width="14.44" height="6.98" fill="#98bfea"/><rect x="100.36" y="447.10" width="14.44" height="6.98" fill="#7aa7e1"/><rect x="114.20" y="447.10" width="14.44" height="6.98" fill="#98bfea"/><rect x="128.04" y="447.10" width="14.44" height="6.98" fill="#f8e136"/><rect x="141.88" y="447.10" width="14.44" height="6.98" fill="#7aa7e1"/><rect x="155.72" y="447.10" width="14.44" height="6.98" fill="#f8e136"/><rect x="169.56" y="447.10" width="28.28" height="6.98" fill="#7aa7e1"/><rect x="197.24" y="447.10" width="14.44" height="6.98" fill="#98bfea"/><rect x="211.08" y="447.10" width="28.28" height="6.98" fill="#7aa7e1"/><rect x="238.76" y="447.10" width="13.84" height="6.98" fill="#98bfea"/><rect x="45.00" y="453.08" width="14.44" height="6.98" fill="#c0dcf5"/><rect x="58.84" y="453.08" width="14.44" height="6.98" fill="#f8e136"/><rect x="72.68" y="453.08" width="14.44" height="6.98" fill="#c0dcf5"/><rect x="86.52" y="453.08" width="14.44" height="6.98" fill="#98bfea"/><rect x="100.36" y="453.08" width="14.44" height="6.98" fill="#f4c030"/><rect x="114.20" y="453.08" width="28.28" height="6.98" fill="#98bfea"/><rect x="141.88" y="453.08" width="14.44" height="6.98" fill="#f8e136"/><rect x="155.72" y="453.08" width="14.44" height="6.98" fill="#c0dcf5"/><rect x="169.56" y="453.08" width="14.44" height="6.98" fill="#f8e136"/><rect x="183.40" y="453.08" width="28.28" height="6.98" fill="#98bfea"/><rect x="211.08" y="453.08" width="14.44" height="6.98" fill="#7aa7e1"/><rect x="224.92" y="453.08" width="14.44" height="6.98" fill="#f8e136"/><rect x="238.76" y="453.08" width="13.84" height="6.98" fill="#98bfea"/><rect x="45.00" y="459.06" width="14.44" height="6.98" fill="#c0dcf5"/><rect x="58.84" y="459.06" width="14.44" height="6.98" fill="#f4c030"/><rect x="72.68" y="459.06" width="14.44" height="6.98" fill="#f8e136"/><rect x="86.52" y="459.06" width="14.44" height="6.98" fill="#c0dcf5"/><rect x="100.36" y="459.06" width="14.44" height="6.98" fill="#f4c030"/><rect x="114.20" y="459.06" width="28.28" height="6.98" fill="#98bfea"/><rect x="141.88" y="459.06" width="42.12" height="6.98" fill="#c0dcf5"/><rect x="183.40" y="459.06" width="14.44" height="6.98" fill="#7aa7e1"/><rect x="197.24" y="459.06" width="14.44" height="6.98" fill="#98bfea"/><rect x="211.08" y="459.06" width="14.44" height="6.98" fill="#7aa7e1"/><rect x="224.92" y="459.06" width="14.44" height="6.98" fill="#98bfea"/><rect x="238.76" y="459.06" width="13.84" height="6.98" fill="#7aa7e1"/><rect x="45.00" y="465.04" width="14.44" height="6.98" fill="#98bfea"/><rect x="58.84" y="465.04" width="14.44" height="6.98" fill="#f8e136"/><rect x="72.68" y="465.04" width="14.44" height="6.98" fill="#98bfea"/><rect x="86.52" y="465.04" width="14.44" height="6.98" fill="#f8e136"/><rect x="100.36" y="465.04" width="14.44" height="6.98" fill="#f4c030"/><rect x="114.20" y="465.04" width="14.44" height="6.98" fill="#f4f8fc"/><rect x="128.04" y="465.04" width="14.44" height="6.98" fill="#98bfea"/><rect x="141.88" y="465.04" width="14.44" height="6.98" fill="#f4c030"/><rect x="155.72" y="465.04" width="14.44" height="6.98" fill="#98bfea"/><rect x="169.56" y="465.04" width="14.44" height="6.98" fill="#f8e136"/><rect x="183.40" y="465.04" width="28.28" height="6.98" fill="#7aa7e1"/><rect x="211.08" y="465.04" width="14.44" height="6.98" fill="#98bfea"/><rect x="224.92" y="465.04" width="14.44" height="6.98" fill="#c0dcf5"/><rect x="238.76" y="465.04" width="13.84" height="6.98" fill="#7aa7e1"/><rect x="45.00" y="471.02" width="14.44" height="6.98" fill="#98bfea"/><rect x="58.84" y="471.02" width="14.44" height="6.98" fill="#f4c030"/><rect x="72.68" y="471.02" width="14.44" height="6.98" fill="#98bfea"/><rect x="86.52" y="471.02" width="14.44" height="6.98" fill="#c0dcf5"/><rect x="100.36" y="471.02" width="14.44" height="6.98" fill="#f4c030"/><rect x="114.20" y="471.02" width="14.44" height="6.98" fill="#98bfea"/><rect x="128.04" y="471.02" width="14.44" height="6.98" fill="#f4f8fc"/><rect x="141.88" y="471.02" width="14.44" height="6.98" fill="#f4c030"/><rect x="155.72" y="471.02" width="14.44" height="6.98" fill="#98bfea"/><rect x="169.56" y="471.02" width="14.44" height="6.98" fill="#c0dcf5"/><rect x="183.40" y="471.02" width="69.20" height="6.98" fill="#98bfea"/><rect x="45.00" y="477.00" width="28.28" height="6.98" fill="#c0dcf5"/><rect x="72.68" y="477.00" width="14.44" height="6.98" fill="#98bfea"/><rect x="86.52" y="477.00" width="14.44" height="6.98" fill="#f8e136"/><rect x="100.36" y="477.00" width="14.44" height="6.98" fill="#f4f8fc"/><rect x="114.20" y="477.00" width="42.12" height="6.98" fill="#c0dcf5"/><rect x="155.72" y="477.00" width="14.44" height="6.98" fill="#7aa7e1"/><rect x="169.56" y="477.00" width="14.44" height="6.98" fill="#c0dcf5"/><rect x="183.40" y="477.00" width="14.44" height="6.98" fill="#98bfea"/><rect x="197.24" y="477.00" width="14.44" height="6.98" fill="#7aa7e1"/><rect x="211.08" y="477.00" width="41.52" height="6.98" fill="#98bfea"/><rect x="45.00" y="482.98" width="14.44" height="6.98" fill="#98bfea"/><rect x="58.84" y="482.98" width="14.44" height="6.98" fill="#f8e136"/><rect x="72.68" y="482.98" width="14.44" height="6.98" fill="#98bfea"/><rect x="86.52" y="482.98" width="28.28" height="6.98" fill="#f8e136"/><rect x="114.20" y="482.98" width="14.44" height="6.98" fill="#7aa7e1"/><rect x="128.04" y="482.98" width="28.28" height="6.98" fill="#c0dcf5"/><rect x="155.72" y="482.98" width="14.44" height="6.98" fill="#7aa7e1"/><rect x="169.56" y="482.98" width="14.44" height="6.98" fill="#f8e136"/><rect x="183.40" y="482.98" width="14.44" height="6.98" fill="#98bfea"/><rect x="197.24" y="482.98" width="14.44" height="6.98" fill="#7aa7e1"/><rect x="211.08" y="482.98" width="41.52" height="6.98" fill="#98bfea"/><rect x="45.00" y="488.96" width="14.44" height="6.98" fill="#c0dcf5"/><rect x="58.84" y="488.96" width="14.44" height="6.98" fill="#f19e2a"/><rect x="72.68" y="488.96" width="14.44" height="6.98" fill="#f8e136"/><rect x="86.52" y="488.96" width="14.44" height="6.98" fill="#f19e2a"/><rect x="100.36" y="488.96" width="14.44" height="6.98" fill="#f8e136"/><rect x="114.20" y="488.96" width="14.44" height="6.98" fill="#98bfea"/><rect x="128.04" y="488.96" width="14.44" height="6.98" fill="#c0dcf5"/><rect x="141.88" y="488.96" width="14.44" height="6.98" fill="#f8e136"/><rect x="155.72" y="488.96" width="14.44" height="6.98" fill="#4a7ad3"/><rect x="169.56" y="488.96" width="14.44" height="6.98" fill="#7aa7e1"/><rect x="183.40" y="488.96" width="69.20" height="6.98" fill="#98bfea"/><rect x="45.00" y="494.94" width="28.28" height="6.98" fill="#f8e136"/><rect x="72.68" y="494.94" width="28.28" height="6.98" fill="#c0dcf5"/><rect x="100.36" y="494.94" width="14.44" height="6.98" fill="#7aa7e1"/><rect x="114.20" y="494.94" width="42.12" height="6.98" fill="#98bfea"/><rect x="155.72" y="494.94" width="14.44" height="6.98" fill="#c0dcf5"/><rect x="169.56" y="494.94" width="55.96" height="6.98" fill="#98bfea"/><rect x="224.92" y="494.94" width="14.44" height="6.98" fill="#c0dcf5"/><rect x="238.76" y="494.94" width="13.84" height="6.98" fill="#98bfea"/><rect x="45.00" y="500.92" width="28.28" height="6.98" fill="#98bfea"/><rect x="72.68" y="500.92" width="28.28" height="6.98" fill="#c0dcf5"/><rect x="100.36" y="500.92" width="14.44" height="6.98" fill="#f8e136"/><rect x="114.20" y="500.92" width="14.44" height="6.98" fill="#98bfea"/><rect x="128.04" y="500.92" width="14.44" height="6.98" fill="#7aa7e1"/><rect x="141.88" y="500.92" width="14.44" height="6.98" fill="#c0dcf5"/><rect x="155.72" y="500.92" width="42.12" height="6.98" fill="#98bfea"/><rect x="197.24" y="500.92" width="14.44" height="6.98" fill="#7aa7e1"/><rect x="211.08" y="500.92" width="14.44" height="6.98" fill="#98bfea"/><rect x="224.92" y="500.92" width="14.44" height="6.98" fill="#7aa7e1"/><rect x="238.76" y="500.92" width="13.84" height="6.98" fill="#98bfea"/><rect x="45.00" y="506.90" width="14.44" height="6.98" fill="#c0dcf5"/><rect x="58.84" y="506.90" width="14.44" height="6.98" fill="#f8e136"/><rect x="72.68" y="506.90" width="42.12" height="6.98" fill="#c0dcf5"/><rect x="114.20" y="506.90" width="14.44" height="6.98" fill="#98bfea"/><rect x="128.04" y="506.90" width="14.44" height="6.98" fill="#7aa7e1"/><rect x="141.88" y="506.90" width="14.44" height="6.98" fill="#c0dcf5"/><rect x="155.72" y="506.90" width="28.28" height="6.98" fill="#98bfea"/><rect x="183.40" y="506.90" width="14.44" height="6.98" fill="#c0dcf5"/><rect x="197.24" y="506.90" width="14.44" height="6.98" fill="#98bfea"/><rect x="211.08" y="506.90" width="14.44" height="6.98" fill="#c0dcf5"/><rect x="224.92" y="506.90" width="14.44" height="6.98" fill="#7aa7e1"/><rect x="238.76" y="506.90" width="13.84" height="6.98" fill="#98bfea"/><rect x="45.00" y="512.88" width="14.44" height="6.98" fill="#c0dcf5"/><rect x="58.84" y="512.88" width="28.28" height="6.98" fill="#f8e136"/><rect x="86.52" y="512.88" width="28.28" height="6.98" fill="#c0dcf5"/><rect x="114.20" y="512.88" width="28.28" height="6.98" fill="#7aa7e1"/><rect x="141.88" y="512.88" width="28.28" height="6.98" fill="#c0dcf5"/><rect x="169.56" y="512.88" width="14.44" height="6.98" fill="#98bfea"/><rect x="183.40" y="512.88" width="14.44" height="6.98" fill="#7aa7e1"/><rect x="197.24" y="512.88" width="14.44" height="6.98" fill="#98bfea"/><rect x="211.08" y="512.88" width="14.44" height="6.98" fill="#c0dcf5"/><rect x="224.92" y="512.88" width="14.44" height="6.98" fill="#7aa7e1"/><rect x="238.76" y="512.88" width="13.84" height="6.98" fill="#98bfea"/><rect x="45.00" y="518.86" width="14.44" height="6.98" fill="#c0dcf5"/><rect x="58.84" y="518.86" width="28.28" height="6.98" fill="#98bfea"/><rect x="86.52" y="518.86" width="14.44" height="6.98" fill="#f8e136"/><rect x="100.36" y="518.86" width="28.28" height="6.98" fill="#f4c030"/><rect x="128.04" y="518.86" width="14.44" height="6.98" fill="#c0dcf5"/><rect x="141.88" y="518.86" width="14.44" height="6.98" fill="#f19e2a"/><rect x="155.72" y="518.86" width="28.28" height="6.98" fill="#7aa7e1"/><rect x="183.40" y="518.86" width="42.12" height="6.98" fill="#98bfea"/><rect x="224.92" y="518.86" width="14.44" height="6.98" fill="#7aa7e1"/><rect x="238.76" y="518.86" width="13.84" height="6.98" fill="#c0dcf5"/><rect x="45.00" y="524.84" width="14.44" height="6.98" fill="#98bfea"/><rect x="58.84" y="524.84" width="14.44" height="6.98" fill="#c0dcf5"/><rect x="72.68" y="524.84" width="14.44" height="6.98" fill="#98bfea"/><rect x="86.52" y="524.84" width="14.44" height="6.98" fill="#f4f8fc"/><rect x="100.36" y="524.84" width="14.44" height="6.98" fill="#f4c030"/><rect x="114.20" y="524.84" width="14.44" height="6.98" fill="#f8e136"/><rect x="128.04" y="524.84" width="28.28" height="6.98" fill="#c0dcf5"/><rect x="155.72" y="524.84" width="28.28" height="6.98" fill="#98bfea"/><rect x="183.40" y="524.84" width="14.44" height="6.98" fill="#7aa7e1"/><rect x="197.24" y="524.84" width="28.28" height="6.98" fill="#98bfea"/><rect x="224.92" y="524.84" width="14.44" height="6.98" fill="#7aa7e1"/><rect x="238.76" y="524.84" width="13.84" height="6.98" fill="#98bfea"/><rect x="45.00" y="530.82" width="14.44" height="6.98" fill="#98bfea"/><rect x="58.84" y="530.82" width="14.44" height="6.98" fill="#c0dcf5"/><rect x="72.68" y="530.82" width="14.44" height="6.98" fill="#98bfea"/><rect x="86.52" y="530.82" width="14.44" height="6.98" fill="#f4f8fc"/><rect x="100.36" y="530.82" width="28.28" height="6.98" fill="#98bfea"/><rect x="128.04" y="530.82" width="14.44" height="6.98" fill="#f19e2a"/><rect x="141.88" y="530.82" width="14.44" height="6.98" fill="#c0dcf5"/><rect x="155.72" y="530.82" width="42.12" height="6.98" fill="#98bfea"/><rect x="197.24" y="530.82" width="42.12" height="6.98" fill="#7aa7e1"/><rect x="238.76" y="530.82" width="13.84" height="6.98" fill="#98bfea"/><rect x="45.00" y="536.80" width="14.44" height="6.98" fill="#c0dcf5"/><rect x="58.84" y="536.80" width="14.44" height="6.98" fill="#98bfea"/><rect x="72.68" y="536.80" width="14.44" height="6.98" fill="#c0dcf5"/><rect x="86.52" y="536.80" width="14.44" height="6.98" fill="#f4f8fc"/><rect x="100.36" y="536.80" width="14.44" height="6.98" fill="#98bfea"/><rect x="114.20" y="536.80" width="14.44" height="6.98" fill="#f8e136"/><rect x="128.04" y="536.80" width="14.44" height="6.98" fill="#f4f8fc"/><rect x="141.88" y="536.80" width="14.44" height="6.98" fill="#f8e136"/><rect x="155.72" y="536.80" width="28.28" height="6.98" fill="#c0dcf5"/><rect x="183.40" y="536.80" width="14.44" height="6.98" fill="#98bfea"/><rect x="197.24" y="536.80" width="14.44" height="6.98" fill="#7aa7e1"/><rect x="211.08" y="536.80" width="14.44" height="6.98" fill="#c0dcf5"/><rect x="224.92" y="536.80" width="14.44" height="6.98" fill="#98bfea"/><rect x="238.76" y="536.80" width="13.84" height="6.98" fill="#c0dcf5"/><rect x="45.00" y="542.78" width="14.44" height="6.98" fill="#f8e136"/><rect x="58.84" y="542.78" width="69.80" height="6.98" fill="#c0dcf5"/><rect x="128.04" y="542.78" width="28.28" height="6.98" fill="#f19e2a"/><rect x="155.72" y="542.78" width="28.28" height="6.98" fill="#c0dcf5"/><rect x="183.40" y="542.78" width="14.44" height="6.98" fill="#98bfea"/><rect x="197.24" y="542.78" width="14.44" height="6.98" fill="#7aa7e1"/><rect x="211.08" y="542.78" width="41.52" height="6.98" fill="#98bfea"/><rect x="45.00" y="548.76" width="14.44" height="6.98" fill="#f8e136"/><rect x="58.84" y="548.76" width="14.44" height="6.98" fill="#c0dcf5"/><rect x="72.68" y="548.76" width="14.44" height="6.98" fill="#98bfea"/><rect x="86.52" y="548.76" width="28.28" height="6.98" fill="#c0dcf5"/><rect x="114.20" y="548.76" width="14.44" height="6.98" fill="#f8e136"/><rect x="128.04" y="548.76" width="14.44" height="6.98" fill="#f4c030"/><rect x="141.88" y="548.76" width="14.44" height="6.98" fill="#f19e2a"/><rect x="155.72" y="548.76" width="14.44" height="6.98" fill="#98bfea"/><rect x="169.56" y="548.76" width="14.44" height="6.98" fill="#c0dcf5"/><rect x="183.40" y="548.76" width="14.44" height="6.98" fill="#98bfea"/><rect x="197.24" y="548.76" width="14.44" height="6.98" fill="#7aa7e1"/><rect x="211.08" y="548.76" width="14.44" height="6.98" fill="#c0dcf5"/><rect x="224.92" y="548.76" width="27.68" height="6.98" fill="#98bfea"/><rect x="45.00" y="554.74" width="14.44" height="6.98" fill="#98bfea"/><rect x="58.84" y="554.74" width="14.44" height="6.98" fill="#c0dcf5"/><rect x="72.68" y="554.74" width="14.44" height="6.98" fill="#98bfea"/><rect x="86.52" y="554.74" width="14.44" height="6.98" fill="#f8e136"/><rect x="100.36" y="554.74" width="14.44" height="6.98" fill="#7aa7e1"/><rect x="114.20" y="554.74" width="28.28" height="6.98" fill="#c0dcf5"/><rect x="141.88" y="554.74" width="14.44" height="6.98" fill="#f4c030"/><rect x="155.72" y="554.74" width="14.44" height="6.98" fill="#f19e2a"/><rect x="169.56" y="554.74" width="14.44" height="6.98" fill="#c0dcf5"/><rect x="183.40" y="554.74" width="28.28" height="6.98" fill="#98bfea"/><rect x="211.08" y="554.74" width="14.44" height="6.98" fill="#c0dcf5"/><rect x="224.92" y="554.74" width="14.44" height="6.98" fill="#7aa7e1"/><rect x="238.76" y="554.74" width="13.84" height="6.98" fill="#98bfea"/><rect x="45.00" y="560.72" width="14.44" height="6.98" fill="#f4c030"/><rect x="58.84" y="560.72" width="14.44" height="6.98" fill="#f8e136"/><rect x="72.68" y="560.72" width="14.44" height="6.98" fill="#f4c030"/><rect x="86.52" y="560.72" width="14.44" height="6.98" fill="#c0dcf5"/><rect x="100.36" y="560.72" width="28.28" height="6.98" fill="#f4c030"/><rect x="128.04" y="560.72" width="28.28" height="6.98" fill="#f19e2a"/><rect x="155.72" y="560.72" width="14.44" height="6.98" fill="#f4c030"/><rect x="169.56" y="560.72" width="28.28" height="6.98" fill="#98bfea"/><rect x="197.24" y="560.72" width="14.44" height="6.98" fill="#c0dcf5"/><rect x="211.08" y="560.72" width="14.44" height="6.98" fill="#98bfea"/><rect x="224.92" y="560.72" width="14.44" height="6.98" fill="#7aa7e1"/><rect x="238.76" y="560.72" width="13.84" height="6.98" fill="#98bfea"/><rect x="45.00" y="566.70" width="14.44" height="6.98" fill="#f4c030"/><rect x="58.84" y="566.70" width="14.44" height="6.98" fill="#f8e136"/><rect x="72.68" y="566.70" width="14.44" height="6.98" fill="#f4c030"/><rect x="86.52" y="566.70" width="14.44" height="6.98" fill="#c0dcf5"/><rect x="100.36" y="566.70" width="14.44" height="6.98" fill="#f8e136"/><rect x="114.20" y="566.70" width="28.28" height="6.98" fill="#c0dcf5"/><rect x="141.88" y="566.70" width="14.44" height="6.98" fill="#f4c030"/><rect x="155.72" y="566.70" width="28.28" height="6.98" fill="#c0dcf5"/><rect x="183.40" y="566.70" width="42.12" height="6.98" fill="#98bfea"/><rect x="224.92" y="566.70" width="14.44" height="6.98" fill="#c0dcf5"/><rect x="238.76" y="566.70" width="13.84" height="6.98" fill="#98bfea"/><rect x="45.00" y="572.68" width="28.28" height="6.98" fill="#f8e136"/><rect x="72.68" y="572.68" width="28.28" height="6.98" fill="#f4c030"/><rect x="100.36" y="572.68" width="14.44" height="6.98" fill="#f8e136"/><rect x="114.20" y="572.68" width="28.28" height="6.98" fill="#f4f8fc"/><rect x="141.88" y="572.68" width="14.44" height="6.98" fill="#c0dcf5"/><rect x="155.72" y="572.68" width="14.44" height="6.98" fill="#f8e136"/><rect x="169.56" y="572.68" width="14.44" height="6.98" fill="#c0dcf5"/><rect x="183.40" y="572.68" width="42.12" height="6.98" fill="#98bfea"/><rect x="224.92" y="572.68" width="14.44" height="6.98" fill="#7aa7e1"/><rect x="238.76" y="572.68" width="13.84" height="6.98" fill="#98bfea"/><rect x="45.00" y="578.66" width="14.44" height="6.98" fill="#f8e136"/><rect x="58.84" y="578.66" width="14.44" height="6.98" fill="#c0dcf5"/><rect x="72.68" y="578.66" width="14.44" height="6.98" fill="#f8e136"/><rect x="86.52" y="578.66" width="28.28" height="6.98" fill="#f4c030"/><rect x="114.20" y="578.66" width="42.12" height="6.98" fill="#c0dcf5"/><rect x="155.72" y="578.66" width="14.44" height="6.98" fill="#f4f8fc"/><rect x="169.56" y="578.66" width="55.96" height="6.98" fill="#98bfea"/><rect x="224.92" y="578.66" width="14.44" height="6.98" fill="#7aa7e1"/><rect x="238.76" y="578.66" width="13.84" height="6.98" fill="#98bfea"/><rect x="45.00" y="584.64" width="28.28" height="6.98" fill="#f4c030"/><rect x="72.68" y="584.64" width="28.28" height="6.98" fill="#c0dcf5"/><rect x="100.36" y="584.64" width="14.44" height="6.98" fill="#f4c030"/><rect x="114.20" y="584.64" width="14.44" height="6.98" fill="#f4f8fc"/><rect x="128.04" y="584.64" width="14.44" height="6.98" fill="#f19e2a"/><rect x="141.88" y="584.64" width="42.12" height="6.98" fill="#c0dcf5"/><rect x="183.40" y="584.64" width="14.44" height="6.98" fill="#98bfea"/><rect x="197.24" y="584.64" width="14.44" height="6.98" fill="#c0dcf5"/><rect x="211.08" y="584.64" width="41.52" height="6.98" fill="#98bfea"/><rect x="45.00" y="590.62" width="55.96" height="6.98" fill="#c0dcf5"/><rect x="100.36" y="590.62" width="14.44" height="6.98" fill="#f4c030"/><rect x="114.20" y="590.62" width="14.44" height="6.98" fill="#98bfea"/><rect x="128.04" y="590.62" width="14.44" height="6.98" fill="#f19e2a"/><rect x="141.88" y="590.62" width="14.44" height="6.98" fill="#c0dcf5"/><rect x="155.72" y="590.62" width="14.44" height="6.98" fill="#98bfea"/><rect x="169.56" y="590.62" width="14.44" height="6.98" fill="#c0dcf5"/><rect x="183.40" y="590.62" width="14.44" height="6.98" fill="#98bfea"/><rect x="197.24" y="590.62" width="14.44" height="6.98" fill="#c0dcf5"/><rect x="211.08" y="590.62" width="41.52" height="6.98" fill="#98bfea"/><rect x="45.00" y="596.60" width="14.44" height="6.98" fill="#c0dcf5"/><rect x="58.84" y="596.60" width="14.44" height="6.98" fill="#f4f8fc"/><rect x="72.68" y="596.60" width="14.44" height="6.98" fill="#c0dcf5"/><rect x="86.52" y="596.60" width="14.44" height="6.98" fill="#98bfea"/><rect x="100.36" y="596.60" width="14.44" height="6.98" fill="#f4f8fc"/><rect x="114.20" y="596.60" width="14.44" height="6.98" fill="#c0dcf5"/><rect x="128.04" y="596.60" width="14.44" height="6.98" fill="#f19e2a"/><rect x="141.88" y="596.60" width="14.44" height="6.98" fill="#c0dcf5"/><rect x="155.72" y="596.60" width="14.44" height="6.98" fill="#98bfea"/><rect x="169.56" y="596.60" width="28.28" height="6.98" fill="#c0dcf5"/><rect x="197.24" y="596.60" width="55.36" height="6.98" fill="#98bfea"/><rect x="45.00" y="602.58" width="14.44" height="6.98" fill="#c0dcf5"/><rect x="58.84" y="602.58" width="14.44" height="6.98" fill="#f8e136"/><rect x="72.68" y="602.58" width="14.44" height="6.98" fill="#c0dcf5"/><rect x="86.52" y="602.58" width="14.44" height="6.98" fill="#f4f8fc"/><rect x="100.36" y="602.58" width="14.44" height="6.98" fill="#f8e136"/><rect x="114.20" y="602.58" width="28.28" height="6.98" fill="#c0dcf5"/><rect x="141.88" y="602.58" width="14.44" height="6.98" fill="#f8e136"/><rect x="155.72" y="602.58" width="14.44" height="6.98" fill="#c0dcf5"/><rect x="169.56" y="602.58" width="14.44" height="6.98" fill="#98bfea"/><rect x="183.40" y="602.58" width="14.44" height="6.98" fill="#7aa7e1"/><rect x="197.24" y="602.58" width="14.44" height="6.98" fill="#c0dcf5"/><rect x="211.08" y="602.58" width="14.44" height="6.98" fill="#7aa7e1"/><rect x="224.92" y="602.58" width="14.44" height="6.98" fill="#98bfea"/><rect x="238.76" y="602.58" width="13.84" height="6.98" fill="#c0dcf5"/><rect x="45.00" y="608.56" width="83.64" height="6.98" fill="#c0dcf5"/><rect x="128.04" y="608.56" width="14.44" height="6.98" fill="#f4f8fc"/><rect x="141.88" y="608.56" width="42.12" height="6.98" fill="#c0dcf5"/><rect x="183.40" y="608.56" width="42.12" height="6.98" fill="#98bfea"/><rect x="224.92" y="608.56" width="14.44" height="6.98" fill="#c0dcf5"/><rect x="238.76" y="608.56" width="13.84" height="6.98" fill="#98bfea"/><rect x="45.00" y="614.54" width="14.44" height="6.98" fill="#c0dcf5"/><rect x="58.84" y="614.54" width="14.44" height="6.98" fill="#f8e136"/><rect x="72.68" y="614.54" width="14.44" height="6.98" fill="#98bfea"/><rect x="86.52" y="614.54" width="14.44" height="6.98" fill="#c0dcf5"/><rect x="100.36" y="614.54" width="14.44" height="6.98" fill="#f8e136"/><rect x="114.20" y="614.54" width="14.44" height="6.98" fill="#c0dcf5"/><rect x="128.04" y="614.54" width="14.44" height="6.98" fill="#f4c030"/><rect x="141.88" y="614.54" width="14.44" height="6.98" fill="#f4f8fc"/><rect x="155.72" y="614.54" width="42.12" height="6.98" fill="#98bfea"/><rect x="197.24" y="614.54" width="14.44" height="6.98" fill="#c0dcf5"/><rect x="211.08" y="614.54" width="14.44" height="6.98" fill="#98bfea"/><rect x="224.92" y="614.54" width="14.44" height="6.98" fill="#7aa7e1"/><rect x="238.76" y="614.54" width="13.84" height="6.98" fill="#98bfea"/><rect x="45.00" y="620.52" width="14.44" height="6.98" fill="#c0dcf5"/><rect x="58.84" y="620.52" width="14.44" height="6.98" fill="#f4f8fc"/><rect x="72.68" y="620.52" width="14.44" height="6.98" fill="#98bfea"/><rect x="86.52" y="620.52" width="14.44" height="6.98" fill="#c0dcf5"/><rect x="100.36" y="620.52" width="14.44" height="6.98" fill="#f8e136"/><rect x="114.20" y="620.52" width="14.44" height="6.98" fill="#c0dcf5"/><rect x="128.04" y="620.52" width="28.28" height="6.98" fill="#f8e136"/><rect x="155.72" y="620.52" width="42.12" height="6.98" fill="#98bfea"/><rect x="197.24" y="620.52" width="14.44" height="6.98" fill="#c0dcf5"/><rect x="211.08" y="620.52" width="14.44" height="6.98" fill="#98bfea"/><rect x="224.92" y="620.52" width="14.44" height="6.98" fill="#7aa7e1"/><rect x="238.76" y="620.52" width="13.84" height="6.98" fill="#98bfea"/><rect x="45.00" y="626.50" width="28.28" height="6.98" fill="#c0dcf5"/><rect x="72.68" y="626.50" width="14.44" height="6.98" fill="#98bfea"/><rect x="86.52" y="626.50" width="28.28" height="6.98" fill="#c0dcf5"/><rect x="114.20" y="626.50" width="14.44" height="6.98" fill="#f8e136"/><rect x="128.04" y="626.50" width="14.44" height="6.98" fill="#f4c030"/><rect x="141.88" y="626.50" width="14.44" height="6.98" fill="#f8e136"/><rect x="155.72" y="626.50" width="14.44" height="6.98" fill="#98bfea"/><rect x="169.56" y="626.50" width="14.44" height="6.98" fill="#c0dcf5"/><rect x="183.40" y="626.50" width="42.12" height="6.98" fill="#98bfea"/><rect x="224.92" y="626.50" width="14.44" height="6.98" fill="#7aa7e1"/><rect x="238.76" y="626.50" width="13.84" height="6.98" fill="#98bfea"/><rect x="45.00" y="632.48" width="28.28" height="6.98" fill="#c0dcf5"/><rect x="72.68" y="632.48" width="14.44" height="6.98" fill="#98bfea"/><rect x="86.52" y="632.48" width="69.80" height="6.98" fill="#f8e136"/><rect x="155.72" y="632.48" width="14.44" height="6.98" fill="#98bfea"/><rect x="169.56" y="632.48" width="14.44" height="6.98" fill="#c0dcf5"/><rect x="183.40" y="632.48" width="28.28" height="6.98" fill="#7aa7e1"/><rect x="211.08" y="632.48" width="14.44" height="6.98" fill="#98bfea"/><rect x="224.92" y="632.48" width="14.44" height="6.98" fill="#7aa7e1"/><rect x="238.76" y="632.48" width="13.84" height="6.98" fill="#98bfea"/><rect x="45.00" y="638.46" width="55.96" height="6.98" fill="#c0dcf5"/><rect x="100.36" y="638.46" width="14.44" height="6.98" fill="#f4c030"/><rect x="114.20" y="638.46" width="14.44" height="6.98" fill="#f8e136"/><rect x="128.04" y="638.46" width="14.44" height="6.98" fill="#f4f8fc"/><rect x="141.88" y="638.46" width="14.44" height="6.98" fill="#f4c030"/><rect x="155.72" y="638.46" width="14.44" height="6.98" fill="#98bfea"/><rect x="169.56" y="638.46" width="14.44" height="6.98" fill="#c0dcf5"/><rect x="183.40" y="638.46" width="69.20" height="6.98" fill="#98bfea"/><rect x="45.00" y="644.44" width="69.80" height="6.98" fill="#c0dcf5"/><rect x="114.20" y="644.44" width="14.44" height="6.98" fill="#f4f8fc"/><rect x="128.04" y="644.44" width="14.44" height="6.98" fill="#c0dcf5"/><rect x="141.88" y="644.44" width="14.44" height="6.98" fill="#f4f8fc"/><rect x="155.72" y="644.44" width="96.88" height="6.98" fill="#98bfea"/><rect x="45.00" y="650.42" width="55.96" height="5.68" fill="#c0dcf5"/><rect x="100.36" y="650.42" width="14.44" height="5.68" fill="#f8e136"/><rect x="114.20" y="650.42" width="28.28" height="5.68" fill="#c0dcf5"/><rect x="141.88" y="650.42" width="14.44" height="5.68" fill="#f8e136"/><rect x="155.72" y="650.42" width="96.88" height="5.68" fill="#98bfea"/>
<rect x="45" y="44.2" width="55.36" height="14.2" fill="#1010e6"/><rect x="100.36" y="44.2" width="83.04" height="14.2" fill="#e00a0a"/><rect x="183.40" y="44.2" width="69.20" height="14.2" fill="#6db33f"/><g font-size="9" fill="#fff" text-anchor="middle"><text transform="translate(72.7,55.5) scale(0.9,1)">PAX5-ETV6</text><text transform="translate(142.4,55.5) scale(0.9,1)">PAX5-C20orf112</text><text transform="translate(218.0,55.5) scale(0.9,1)">PAX5-JAK2</text></g>
<path d="M52.3 43.6V29.4M66.2 43.6V29.4M52.3 29.4H66.2M59.2 29.4V29.2M80.0 43.6V29.2M59.2 29.2H80.0M93.8 43.6V26.9M107.7 43.6V26.9M93.8 26.9H107.7M69.6 29.2V22.6M100.8 26.9V22.6M69.6 22.6H100.8M121.5 43.6V25.8M135.4 43.6V25.8M121.5 25.8H135.4M128.4 25.8V21.2M149.2 43.6V21.2M128.4 21.2H149.2M85.2 22.6V17.6M138.8 21.2V17.6M85.2 17.6H138.8M163.0 43.6V22.0M176.9 43.6V22.0M163.0 22.0H176.9M112.0 17.6V11.0M170.0 22.0V11.0M112.0 11.0H170.0M190.7 43.6V28.7M204.6 43.6V28.7M190.7 28.7H204.6M232.2 43.6V30.3M246.1 43.6V30.3M232.2 30.3H246.1M218.4 43.6V27.0M239.2 30.3V27.0M218.4 27.0H239.2M197.6 28.7V21.5M228.8 27.0V21.5M197.6 21.5H228.8M141.0 11.0V1.2M213.2 21.5V1.2M141.0 1.2H213.2" stroke="#666" stroke-width="1" fill="none"/>
<path d="M39.7 264.7H44.0M39.7 270.7H44.0M39.7 264.7V270.7M39.2 198.9H44.0M39.2 204.9H44.0M39.2 198.9V204.9M38.9 216.9H44.0M38.9 222.9H44.0M38.9 216.9V222.9M38.9 163.1H44.0M38.9 169.0H44.0M38.9 163.1V169.0M38.8 246.8H44.0M38.8 252.8H44.0M38.8 246.8V252.8M38.7 145.1H44.0M38.7 151.1H44.0M38.7 145.1V151.1M38.4 181.0H44.0M38.4 187.0H44.0M38.4 181.0V187.0M38.4 267.7H39.7M38.4 276.7H44.0M38.4 267.7V276.7M38.3 73.3H44.0M38.3 79.3H44.0M38.3 73.3V79.3M38.1 61.4H44.0M38.1 67.4H44.0M38.1 61.4V67.4M38.0 193.0H44.0M38.0 201.9H39.2M38.0 193.0V201.9M37.8 234.8H44.0M37.8 240.8H44.0M37.8 234.8V240.8M37.7 249.8H38.8M37.7 258.7H44.0M37.7 249.8V258.7M37.3 76.3H38.3M37.3 85.3H44.0M37.3 76.3V85.3M37.6 166.0H38.9M37.6 175.0H44.0M37.6 166.0V175.0M37.4 91.3H44.0M37.4 97.3H44.0M37.4 91.3V97.3M37.2 282.7H44.0M37.2 288.6H44.0M37.2 282.7V288.6M37.0 197.4H38.0M37.0 210.9H44.0M37.0 197.4V210.9M36.6 170.5H37.6M36.6 184.0H38.4M36.6 170.5V184.0M35.6 177.3H36.6M35.6 204.2H37.0M35.6 177.3V204.2M36.8 115.2H44.0M36.8 121.2H44.0M36.8 115.2V121.2M36.3 80.8H37.3M36.3 94.3H37.4M36.3 80.8V94.3M36.4 127.2H44.0M36.4 133.2H44.0M36.4 127.2V133.2M34.6 190.7H35.6M34.6 219.9H38.9M34.6 190.7V219.9M35.3 64.4H38.1M35.3 87.6H36.3M35.3 64.4V87.6M35.8 228.8H44.0M35.8 237.8H37.8M35.8 228.8V237.8M35.6 254.2H37.7M35.6 272.2H38.4M35.6 254.2V272.2M35.1 103.2H44.0M35.1 109.2H44.0M35.1 103.2V109.2M33.6 205.3H34.6M33.6 233.3H35.8M33.6 205.3V233.3M34.5 263.2H35.6M34.5 285.6H37.2M34.5 263.2V285.6M32.6 219.3H33.6M32.6 274.4H34.5M32.6 219.3V274.4M33.1 130.2H36.4M33.1 139.1H44.0M33.1 130.2V139.1M32.7 106.2H35.1M32.7 118.2H36.8M32.7 106.2V118.2M31.7 76.0H35.3M31.7 112.2H32.7M31.7 76.0V112.2M30.7 94.1H31.7M30.7 134.6H33.1M30.7 94.1V134.6M30.3 114.4H30.7M30.3 148.1H38.7M30.3 114.4V148.1M30.3 131.2H30.3M30.3 157.1H44.0M30.3 131.2V157.1M29.7 144.2H30.3M29.7 246.9H32.6M29.7 144.2V246.9M27.4 195.5H29.7M27.4 294.6H44.0M27.4 195.5V294.6M38.0 306.6H44.0M38.0 312.6H44.0M38.0 306.6V312.6M37.5 318.5H44.0M37.5 324.5H44.0M37.5 318.5V324.5M36.9 300.6H44.0M36.9 309.6H38.0M36.9 300.6V309.6M35.6 305.1H36.9M35.6 321.5H37.5M35.6 305.1V321.5M30.6 313.3H35.6M30.6 330.5H44.0M30.6 313.3V330.5M38.0 336.5H44.0M38.0 342.4H44.0M38.0 336.5V342.4M37.6 348.4H44.0M37.6 354.4H44.0M37.6 348.4V354.4M33.8 339.5H38.0M33.8 351.4H37.6M33.8 339.5V351.4M24.2 321.9H30.6M24.2 345.4H33.8M24.2 321.9V345.4M19.6 245.1H27.4M19.6 333.7H24.2M19.6 245.1V333.7M39.4 426.2H44.0M39.4 432.1H44.0M39.4 426.2V432.1M38.4 420.2H44.0M38.4 429.2H39.4M38.4 420.2V429.2M38.5 402.2H44.0M38.5 408.2H44.0M38.5 402.2V408.2M37.4 414.2H44.0M37.4 424.7H38.4M37.4 414.2V424.7M36.4 405.2H38.5M36.4 419.4H37.4M36.4 405.2V419.4M35.7 384.3H44.0M35.7 390.3H44.0M35.7 384.3V390.3M34.7 396.3H44.0M34.7 412.3H36.4M34.7 396.3V412.3M33.7 387.3H35.7M33.7 404.3H34.7M33.7 387.3V404.3M33.4 366.4H44.0M33.4 372.4H44.0M33.4 366.4V372.4M31.4 369.4H33.4M31.4 378.3H44.0M31.4 369.4V378.3M28.5 373.8H31.4M28.5 395.8H33.7M28.5 373.8V395.8M25.1 360.4H44.0M25.1 384.8H28.5M25.1 360.4V384.8M34.7 438.1H44.0M34.7 444.1H44.0M34.7 438.1V444.1M39.6 617.5H44.0M39.6 623.5H44.0M39.6 617.5V623.5M38.9 647.4H44.0M38.9 653.4H44.0M38.9 647.4V653.4M38.8 545.8H44.0M38.8 551.8H44.0M38.8 545.8V551.8M38.7 593.6H44.0M38.7 599.6H44.0M38.7 593.6V599.6M38.3 575.7H44.0M38.3 581.6H44.0M38.3 575.7V581.6M38.2 509.9H44.0M38.2 515.9H44.0M38.2 509.9V515.9M37.9 641.5H44.0M37.9 650.4H38.9M37.9 641.5V650.4M37.9 629.5H44.0M37.9 635.5H44.0M37.9 629.5V635.5M37.3 480.0H44.0M37.3 486.0H44.0M37.3 480.0V486.0M36.9 620.5H39.6M36.9 632.5H37.9M36.9 620.5V632.5M35.9 626.5H36.9M35.9 645.9H37.9M35.9 626.5V645.9M34.9 611.6H44.0M34.9 636.2H35.9M34.9 611.6V636.2M33.9 605.6H44.0M33.9 623.9H34.9M33.9 605.6V623.9M36.7 539.8H44.0M36.7 548.8H38.8M36.7 539.8V548.8M32.9 596.6H38.7M32.9 614.7H33.9M32.9 596.6V614.7M36.4 503.9H44.0M36.4 512.9H38.2M36.4 503.9V512.9M36.3 468.0H44.0M36.3 474.0H44.0M36.3 468.0V474.0M36.3 521.9H44.0M36.3 527.8H44.0M36.3 521.9V527.8M35.4 497.9H44.0M35.4 508.4H36.4M35.4 497.9V508.4M35.3 471.0H36.3M35.3 483.0H37.3M35.3 471.0V483.0M35.3 456.1H44.0M35.3 462.1H44.0M35.3 456.1V462.1M35.0 569.7H44.0M35.0 578.7H38.3M35.0 569.7V578.7M31.9 587.6H44.0M31.9 605.7H32.9M31.9 587.6V605.7M34.3 459.1H35.3M34.3 477.0H35.3M34.3 459.1V477.0M34.2 533.8H44.0M34.2 544.3H36.7M34.2 533.8V544.3M30.9 574.2H35.0M30.9 596.6H31.9M30.9 574.2V596.6M32.7 468.0H34.3M32.7 491.9H44.0M32.7 468.0V491.9M31.7 480.0H32.7M31.7 503.2H35.4M31.7 480.0V503.2M32.6 524.8H36.3M32.6 539.0H34.2M32.6 524.8V539.0M30.7 491.6H31.7M30.7 531.9H32.6M30.7 491.6V531.9M29.9 563.7H44.0M29.9 585.4H30.9M29.9 563.7V585.4M29.8 557.7H44.0M29.8 574.6H29.9M29.8 557.7V574.6M29.2 511.8H30.7M29.2 566.1H29.8M29.2 511.8V566.1M24.7 450.1H44.0M24.7 539.0H29.2M24.7 450.1V539.0M23.4 441.1H34.7M23.4 494.5H24.7M23.4 441.1V494.5M13.2 372.6H25.1M13.2 467.8H23.4M13.2 372.6V467.8M1.0 289.4H19.6M1.0 420.2H13.2M1.0 289.4V420.2" stroke="#3a3a3a" stroke-width="0.9" fill="none"/>
<g font-size="5.6" fill="#000" stroke="#000" stroke-width="0.18" text-rendering="geometricPrecision"><text x="257.6" y="63.49">TLR7</text><text x="257.6" y="69.47">PTPRO</text><text x="257.6" y="75.45">MDFIC</text><text x="257.6" y="81.43">CD200</text><text x="257.6" y="87.41">NCF2</text><text x="257.6" y="93.39">GUCY1A3</text><text x="257.6" y="99.37">RAG1</text><text x="257.6" y="105.35">IL15</text><text x="257.6" y="111.33">BEST3</text><text x="257.6" y="117.31">UBE2W</text><text x="257.6" y="123.29">HMX2</text><text x="257.6" y="129.27">SLC8A1-AS1</text><text x="257.6" y="135.25">ENAM</text><text x="257.6" y="141.23">CTGF</text><text x="257.6" y="147.21">LRIG1</text><text x="257.6" y="153.19">HIST1H3H</text><text x="257.6" y="159.17">IGF2BP3</text><text x="257.6" y="165.15">JAK2</text><text x="257.6" y="171.13">PCED1B</text><text x="257.6" y="177.11">UGP2</text><text x="257.6" y="183.09">CISH</text><text x="257.6" y="189.07">WNT9A</text><text x="257.6" y="195.05">SOCS1</text><text x="257.6" y="201.03">CA6</text><text x="257.6" y="207.01">CD36</text><text x="257.6" y="212.99">TRAT1</text><text x="257.6" y="218.97">DOCK9</text><text x="257.6" y="224.95">SEMA6A</text><text x="257.6" y="230.93">THBS1</text><text x="257.6" y="236.91">TNFSF4</text><text x="257.6" y="242.89">ARPP21</text><text x="257.6" y="248.87">AMIGO2</text><text x="257.6" y="254.85">LINC00597</text><text x="257.6" y="260.83">CDC42EP3</text><text x="257.6" y="266.81">HHIP-AS1</text><text x="257.6" y="272.79">HHIP</text><text x="257.6" y="278.77">PFKFB2</text><text x="257.6" y="284.75">PEG10</text><text x="257.6" y="290.73">ENPP2</text><text x="257.6" y="296.71">IGJ</text><text x="257.6" y="302.69">PHLDB2</text><text x="257.6" y="308.67">TMEM64</text><text x="257.6" y="314.65">CHN2</text><text x="257.6" y="320.63">CMTM8</text><text x="257.6" y="326.61">PTPRJ</text><text x="257.6" y="332.59">NLGN4X</text><text x="257.6" y="338.57">CLECL1</text><text x="257.6" y="344.55">MS4A1</text><text x="257.6" y="350.53">GBP1</text><text x="257.6" y="356.51">ITPRIPL2</text><text x="257.6" y="362.49">GNG11</text><text x="257.6" y="368.47">HLA-DQB1</text><text x="257.6" y="374.45">SHANK3</text><text x="257.6" y="380.43">ZBTB8A</text><text x="257.6" y="386.41">DCHS1</text><text x="257.6" y="392.39">MN1</text><text x="257.6" y="398.37">TACC1</text><text x="257.6" y="404.35">TTC28</text><text x="257.6" y="410.33">CEBPB</text><text x="257.6" y="416.31">C19orf77</text><text x="257.6" y="422.29">MLLT4</text><text x="257.6" y="428.27">MYO10</text><text x="257.6" y="434.25">PRKCZ</text><text x="257.6" y="440.23">SKAP2</text><text x="257.6" y="446.21">EGR1</text><text x="257.6" y="452.19">HDGFRP3</text><text x="257.6" y="458.17">LINC00960</text><text x="257.6" y="464.15">ADAM9</text><text x="257.6" y="470.13">S100A16</text><text x="257.6" y="476.11">MCAM</text><text x="257.6" y="482.09">ATF3</text><text x="257.6" y="488.07">C11orf96</text><text x="257.6" y="494.05">FAM150B</text><text x="257.6" y="500.03">IGF1R</text><text x="257.6" y="506.01">PHLDA1</text><text x="257.6" y="511.99">PHYH</text><text x="257.6" y="517.97">UAP1</text><text x="257.6" y="523.95">ADM</text><text x="257.6" y="529.93">NR4A3</text><text x="257.6" y="535.91">GATA3</text><text x="257.6" y="541.89">RGCC</text><text x="257.6" y="547.87">CD44</text><text x="257.6" y="553.85">VIM</text><text x="257.6" y="559.83">WASIR2</text><text x="257.6" y="565.81">GOLIM4</text><text x="257.6" y="571.79">SLC39A8</text><text x="257.6" y="577.77">PDLIM1</text><text x="257.6" y="583.75">MATR3</text><text x="257.6" y="589.73">SPAG9</text><text x="257.6" y="595.71">VLDLR</text><text x="257.6" y="601.69">MEX3C</text><text x="257.6" y="607.67">DNAJC1</text><text x="257.6" y="613.65">PTTG1IP</text><text x="257.6" y="619.63">OPA1</text><text x="257.6" y="625.61">POLB</text><text x="257.6" y="631.59">SLC2A3</text><text x="257.6" y="637.57">MAFF</text><text x="257.6" y="643.55">GNA13</text><text x="257.6" y="649.53">PHLDA2</text><text x="257.6" y="655.51">HERC1</text></g>
<defs><linearGradient id="ck" x1="0" x2="1" y1="0" y2="0"><stop offset="0" stop-color="#4676d0"/><stop offset="0.22" stop-color="#7ea8e0"/><stop offset="0.45" stop-color="#c4def6"/><stop offset="0.52" stop-color="#fbfbf0"/><stop offset="0.58" stop-color="#f9e23a"/><stop offset="0.72" stop-color="#f09a28"/><stop offset="0.86" stop-color="#e86a20"/><stop offset="1" stop-color="#cf3010"/></linearGradient></defs><rect x="18.3" y="7.5" width="22.6" height="21.3" fill="url(#ck)"/><text x="29.4" y="3.4" font-size="3.5" font-weight="bold" text-anchor="middle" fill="#222" stroke="#222" stroke-width="0.15">Color Key</text><line x1="19.2" y1="28.6" x2="19.2" y2="31.3" stroke="#666" stroke-width="0.8"/><line x1="23.1" y1="28.6" x2="23.1" y2="31.3" stroke="#666" stroke-width="0.8"/><line x1="26.5" y1="28.6" x2="26.5" y2="31.3" stroke="#666" stroke-width="0.8"/><line x1="30.1" y1="28.6" x2="30.1" y2="31.3" stroke="#666" stroke-width="0.8"/><line x1="33.7" y1="28.6" x2="33.7" y2="31.3" stroke="#666" stroke-width="0.8"/><line x1="37.3" y1="28.6" x2="37.3" y2="31.3" stroke="#666" stroke-width="0.8"/><g font-size="5" fill="#111" stroke="#111" stroke-width="0.2" text-anchor="middle"><text x="20.0" y="38.6">-6</text><text x="30.1" y="38.6">0</text><text x="37.1" y="38.6">4</text></g><text x="29.4" y="44.9" font-size="6.4" text-anchor="middle" fill="#111" stroke="#111" stroke-width="0.15">Value</text>
<g font-weight="bold" fill="#000"><text x="0.7" y="9.7" font-size="12.2">A</text><text x="296.3" y="9.6" font-size="11.4">B</text><text x="296.2" y="349.8" font-size="11.4">C</text></g>
<rect x="328.3" y="12.0" width="87.2" height="72.0" fill="none" stroke="#505050" stroke-width="0.9"/><text x="367.7" y="9.2" font-size="8.3" font-style="italic" text-anchor="middle" fill="#111" stroke="#111" stroke-width="0.2">SOCS1</text><line x1="325.5" y1="18.0" x2="328.3" y2="18.0" stroke="#444" stroke-width="0.7"/><text transform="translate(321.6,18.0) rotate(-90)" font-size="4.3" text-anchor="middle" fill="#222" stroke="#222" stroke-width="0.25">5</text><line x1="325.5" y1="27.9" x2="328.3" y2="27.9" stroke="#444" stroke-width="0.7"/><text transform="translate(321.6,27.9) rotate(-90)" font-size="4.3" text-anchor="middle" fill="#222" stroke="#222" stroke-width="0.25">4</text><line x1="325.5" y1="37.8" x2="328.3" y2="37.8" stroke="#444" stroke-width="0.7"/><text transform="translate(321.6,37.8) rotate(-90)" font-size="4.3" text-anchor="middle" fill="#222" stroke="#222" stroke-width="0.25">3</text><line x1="325.5" y1="47.8" x2="328.3" y2="47.8" stroke="#444" stroke-width="0.7"/><text transform="translate(321.6,47.8) rotate(-90)" font-size="4.3" text-anchor="middle" fill="#222" stroke="#222" stroke-width="0.25">2</text><line x1="325.5" y1="57.7" x2="328.3" y2="57.7" stroke="#444" stroke-width="0.7"/><text transform="translate(321.6,57.7) rotate(-90)" font-size="4.3" text-anchor="middle" fill="#222" stroke="#222" stroke-width="0.25">1</text><line x1="325.5" y1="67.6" x2="328.3" y2="67.6" stroke="#444" stroke-width="0.7"/><text transform="translate(321.6,67.6) rotate(-90)" font-size="4.3" text-anchor="middle" fill="#222" stroke="#222" stroke-width="0.25">0</text><line x1="325.5" y1="77.5" x2="328.3" y2="77.5" stroke="#444" stroke-width="0.7"/><text transform="translate(321.6,77.5) rotate(-90)" font-size="4.3" text-anchor="middle" fill="#222" stroke="#222" stroke-width="0.25">-1</text><line x1="341.6" y1="84.0" x2="341.6" y2="86.8" stroke="#444" stroke-width="0.7"/><text x="341.6" y="95.5" font-size="8.6" text-anchor="middle" fill="#111" stroke="#111" stroke-width="0.15">P-C</text><line x1="361.8" y1="84.0" x2="361.8" y2="86.8" stroke="#444" stroke-width="0.7"/><text x="361.8" y="95.5" font-size="8.6" text-anchor="middle" fill="#111" stroke="#111" stroke-width="0.15">P-E</text><line x1="382.0" y1="84.0" x2="382.0" y2="86.8" stroke="#444" stroke-width="0.7"/><text x="382.0" y="95.5" font-size="8.6" text-anchor="middle" fill="#111" stroke="#111" stroke-width="0.15">P-J</text><line x1="402.2" y1="84.0" x2="402.2" y2="86.8" stroke="#444" stroke-width="0.7"/><text x="402.2" y="95.5" font-size="8.6" text-anchor="middle" fill="#111" stroke="#111" stroke-width="0.15">WT</text><line x1="341.6" y1="69.8" x2="341.6" y2="70.4" stroke="#555" stroke-width="0.7" stroke-dasharray="1.2,1.2"/><line x1="337.6" y1="69.8" x2="345.7" y2="69.8" stroke="#444" stroke-width="0.8"/><line x1="341.6" y1="77.9" x2="341.6" y2="78.5" stroke="#555" stroke-width="0.7" stroke-dasharray="1.2,1.2"/><line x1="337.6" y1="78.5" x2="345.7" y2="78.5" stroke="#444" stroke-width="0.8"/><rect x="333.5" y="70.4" width="16.1" height="7.5" fill="#fff" stroke="#505050" stroke-width="0.8"/><line x1="333.5" y1="74.0" x2="349.7" y2="74.0" stroke="#111" stroke-width="1.9"/><line x1="361.8" y1="62.8" x2="361.8" y2="65.6" stroke="#555" stroke-width="0.7" stroke-dasharray="1.2,1.2"/><line x1="357.8" y1="62.8" x2="365.8" y2="62.8" stroke="#444" stroke-width="0.8"/><line x1="361.8" y1="78.7" x2="361.8" y2="81.0" stroke="#555" stroke-width="0.7" stroke-dasharray="1.2,1.2"/><line x1="357.8" y1="81.0" x2="365.8" y2="81.0" stroke="#444" stroke-width="0.8"/><rect x="353.7" y="65.6" width="16.1" height="13.1" fill="#fff" stroke="#505050" stroke-width="0.8"/><line x1="353.7" y1="71.9" x2="369.9" y2="71.9" stroke="#111" stroke-width="1.9"/><line x1="382.0" y1="27.0" x2="382.0" y2="27.5" stroke="#555" stroke-width="0.7" stroke-dasharray="1.2,1.2"/><line x1="378.0" y1="27.0" x2="386.0" y2="27.0" stroke="#444" stroke-width="0.8"/><line x1="382.0" y1="32.2" x2="382.0" y2="32.6" stroke="#555" stroke-width="0.7" stroke-dasharray="1.2,1.2"/><line x1="378.0" y1="32.6" x2="386.0" y2="32.6" stroke="#444" stroke-width="0.8"/><rect x="373.9" y="27.5" width="16.1" height="4.7" fill="#fff" stroke="#505050" stroke-width="0.8"/><line x1="373.9" y1="30.0" x2="390.1" y2="30.0" stroke="#111" stroke-width="1.9"/><circle cx="382.0" cy="46.1" r="0.8" fill="#333"/><text x="382.0" y="26.8" font-size="10.5" font-weight="bold" text-anchor="middle" fill="#111">***</text><line x1="402.2" y1="53.9" x2="402.2" y2="62.4" stroke="#555" stroke-width="0.7" stroke-dasharray="1.2,1.2"/><line x1="398.1" y1="53.9" x2="406.2" y2="53.9" stroke="#444" stroke-width="0.8"/><line x1="402.2" y1="74.7" x2="402.2" y2="77.9" stroke="#555" stroke-width="0.7" stroke-dasharray="1.2,1.2"/><line x1="398.1" y1="77.9" x2="406.2" y2="77.9" stroke="#444" stroke-width="0.8"/><rect x="394.1" y="62.4" width="16.1" height="12.3" fill="#fff" stroke="#505050" stroke-width="0.8"/><line x1="394.1" y1="67.3" x2="410.3" y2="67.3" stroke="#111" stroke-width="1.9"/><text transform="translate(311.3,48.4) rotate(-90) scale(1,0.9)" font-size="8.4" text-anchor="middle" fill="#111" stroke="#111" stroke-width="0.12">LogFC MeanWT</text><rect x="430.8" y="12.1" width="88.2" height="71.7" fill="none" stroke="#505050" stroke-width="0.9"/><text x="470.2" y="8.9" font-size="8.3" font-style="italic" text-anchor="middle" fill="#111" stroke="#111" stroke-width="0.2">CISH</text><line x1="428.0" y1="14.2" x2="430.8" y2="14.2" stroke="#444" stroke-width="0.7"/><text transform="translate(424.1,14.2) rotate(-90)" font-size="4.3" text-anchor="middle" fill="#222" stroke="#222" stroke-width="0.25">5</text><line x1="428.0" y1="26.0" x2="430.8" y2="26.0" stroke="#444" stroke-width="0.7"/><text transform="translate(424.1,26.0) rotate(-90)" font-size="4.3" text-anchor="middle" fill="#222" stroke="#222" stroke-width="0.25">4</text><line x1="428.0" y1="37.9" x2="430.8" y2="37.9" stroke="#444" stroke-width="0.7"/><text transform="translate(424.1,37.9) rotate(-90)" font-size="4.3" text-anchor="middle" fill="#222" stroke="#222" stroke-width="0.25">3</text><line x1="428.0" y1="49.7" x2="430.8" y2="49.7" stroke="#444" stroke-width="0.7"/><text transform="translate(424.1,49.7) rotate(-90)" font-size="4.3" text-anchor="middle" fill="#222" stroke="#222" stroke-width="0.25">2</text><line x1="428.0" y1="61.6" x2="430.8" y2="61.6" stroke="#444" stroke-width="0.7"/><text transform="translate(424.1,61.6) rotate(-90)" font-size="4.3" text-anchor="middle" fill="#222" stroke="#222" stroke-width="0.25">1</text><line x1="428.0" y1="73.4" x2="430.8" y2="73.4" stroke="#444" stroke-width="0.7"/><text transform="translate(424.1,73.4) rotate(-90)" font-size="4.3" text-anchor="middle" fill="#222" stroke="#222" stroke-width="0.25">0</text><line x1="444.3" y1="83.8" x2="444.3" y2="86.6" stroke="#444" stroke-width="0.7"/><text x="444.3" y="95.3" font-size="8.6" text-anchor="middle" fill="#111" stroke="#111" stroke-width="0.15">P-C</text><line x1="464.7" y1="83.8" x2="464.7" y2="86.6" stroke="#444" stroke-width="0.7"/><text x="464.7" y="95.3" font-size="8.6" text-anchor="middle" fill="#111" stroke="#111" stroke-width="0.15">P-E</text><line x1="485.1" y1="83.8" x2="485.1" y2="86.6" stroke="#444" stroke-width="0.7"/><text x="485.1" y="95.3" font-size="8.6" text-anchor="middle" fill="#111" stroke="#111" stroke-width="0.15">P-J</text><line x1="505.5" y1="83.8" x2="505.5" y2="86.6" stroke="#444" stroke-width="0.7"/><text x="505.5" y="95.3" font-size="8.6" text-anchor="middle" fill="#111" stroke="#111" stroke-width="0.15">WT</text><line x1="444.3" y1="63.8" x2="444.3" y2="65.2" stroke="#555" stroke-width="0.7" stroke-dasharray="1.2,1.2"/><line x1="440.2" y1="63.8" x2="448.4" y2="63.8" stroke="#444" stroke-width="0.8"/><line x1="440.2" y1="75.4" x2="448.4" y2="75.4" stroke="#444" stroke-width="0.8"/><rect x="436.1" y="65.2" width="16.3" height="10.2" fill="#fff" stroke="#505050" stroke-width="0.8"/><line x1="436.1" y1="69.5" x2="452.4" y2="69.5" stroke="#111" stroke-width="1.9"/><line x1="464.7" y1="62.5" x2="464.7" y2="69.5" stroke="#555" stroke-width="0.7" stroke-dasharray="1.2,1.2"/><line x1="460.6" y1="62.5" x2="468.8" y2="62.5" stroke="#444" stroke-width="0.8"/><line x1="460.6" y1="80.8" x2="468.8" y2="80.8" stroke="#444" stroke-width="0.8"/><rect x="456.5" y="69.5" width="16.3" height="11.3" fill="#fff" stroke="#505050" stroke-width="0.8"/><line x1="456.5" y1="78.1" x2="472.9" y2="78.1" stroke="#111" stroke-width="1.9"/><line x1="485.1" y1="27.7" x2="485.1" y2="33.7" stroke="#555" stroke-width="0.7" stroke-dasharray="1.2,1.2"/><line x1="481.0" y1="27.7" x2="489.2" y2="27.7" stroke="#444" stroke-width="0.8"/><line x1="485.1" y1="40.4" x2="485.1" y2="47.1" stroke="#555" stroke-width="0.7" stroke-dasharray="1.2,1.2"/><line x1="481.0" y1="47.1" x2="489.2" y2="47.1" stroke="#444" stroke-width="0.8"/><rect x="476.9" y="33.7" width="16.3" height="6.7" fill="#fff" stroke="#505050" stroke-width="0.8"/><line x1="476.9" y1="37.7" x2="493.3" y2="37.7" stroke="#111" stroke-width="1.9"/><text x="485.1" y="27.1" font-size="10.5" font-weight="bold" text-anchor="middle" fill="#111">***</text><line x1="505.5" y1="62.7" x2="505.5" y2="70.5" stroke="#555" stroke-width="0.7" stroke-dasharray="1.2,1.2"/><line x1="501.4" y1="62.7" x2="509.6" y2="62.7" stroke="#444" stroke-width="0.8"/><line x1="505.5" y1="77.3" x2="505.5" y2="80.0" stroke="#555" stroke-width="0.7" stroke-dasharray="1.2,1.2"/><line x1="501.4" y1="80.0" x2="509.6" y2="80.0" stroke="#444" stroke-width="0.8"/><rect x="497.4" y="70.5" width="16.3" height="6.8" fill="#fff" stroke="#505050" stroke-width="0.8"/><line x1="497.4" y1="74.0" x2="513.7" y2="74.0" stroke="#111" stroke-width="1.9"/><rect x="328.1" y="121.2" width="87.2" height="71.9" fill="none" stroke="#505050" stroke-width="0.9"/><text x="367.7" y="118.5" font-size="8.3" font-style="italic" text-anchor="middle" fill="#111" stroke="#111" stroke-width="0.2">PIM1</text><line x1="325.3" y1="124.9" x2="328.1" y2="124.9" stroke="#444" stroke-width="0.7"/><text transform="translate(321.4,124.9) rotate(-90)" font-size="4.3" text-anchor="middle" fill="#222" stroke="#222" stroke-width="0.25">2.0</text><line x1="325.3" y1="134.8" x2="328.1" y2="134.8" stroke="#444" stroke-width="0.7"/><line x1="325.3" y1="144.6" x2="328.1" y2="144.6" stroke="#444" stroke-width="0.7"/><text transform="translate(321.4,144.6) rotate(-90)" font-size="4.3" text-anchor="middle" fill="#222" stroke="#222" stroke-width="0.25">1.0</text><line x1="325.3" y1="154.5" x2="328.1" y2="154.5" stroke="#444" stroke-width="0.7"/><line x1="325.3" y1="164.3" x2="328.1" y2="164.3" stroke="#444" stroke-width="0.7"/><text transform="translate(321.4,164.3) rotate(-90)" font-size="4.3" text-anchor="middle" fill="#222" stroke="#222" stroke-width="0.25">0.0</text><line x1="325.3" y1="174.2" x2="328.1" y2="174.2" stroke="#444" stroke-width="0.7"/><line x1="325.3" y1="184.0" x2="328.1" y2="184.0" stroke="#444" stroke-width="0.7"/><text transform="translate(321.4,184.0) rotate(-90)" font-size="4.3" text-anchor="middle" fill="#222" stroke="#222" stroke-width="0.25">-1.0</text><line x1="341.4" y1="193.1" x2="341.4" y2="195.9" stroke="#444" stroke-width="0.7"/><text x="341.4" y="204.6" font-size="8.6" text-anchor="middle" fill="#111" stroke="#111" stroke-width="0.15">P-C</text><line x1="361.6" y1="193.1" x2="361.6" y2="195.9" stroke="#444" stroke-width="0.7"/><text x="361.6" y="204.6" font-size="8.6" text-anchor="middle" fill="#111" stroke="#111" stroke-width="0.15">P-E</text><line x1="381.8" y1="193.1" x2="381.8" y2="195.9" stroke="#444" stroke-width="0.7"/><text x="381.8" y="204.6" font-size="8.6" text-anchor="middle" fill="#111" stroke="#111" stroke-width="0.15">P-J</text><line x1="402.0" y1="193.1" x2="402.0" y2="195.9" stroke="#444" stroke-width="0.7"/><text x="402.0" y="204.6" font-size="8.6" text-anchor="middle" fill="#111" stroke="#111" stroke-width="0.15">WT</text><line x1="341.4" y1="156.0" x2="341.4" y2="169.8" stroke="#555" stroke-width="0.7" stroke-dasharray="1.2,1.2"/><line x1="337.4" y1="156.0" x2="345.5" y2="156.0" stroke="#444" stroke-width="0.8"/><line x1="341.4" y1="181.0" x2="341.4" y2="188.2" stroke="#555" stroke-width="0.7" stroke-dasharray="1.2,1.2"/><line x1="337.4" y1="188.2" x2="345.5" y2="188.2" stroke="#444" stroke-width="0.8"/><rect x="333.3" y="169.8" width="16.1" height="11.2" fill="#fff" stroke="#505050" stroke-width="0.8"/><line x1="333.3" y1="174.0" x2="349.5" y2="174.0" stroke="#111" stroke-width="1.9"/><line x1="361.6" y1="150.3" x2="361.6" y2="162.4" stroke="#555" stroke-width="0.7" stroke-dasharray="1.2,1.2"/><line x1="357.6" y1="150.3" x2="365.6" y2="150.3" stroke="#444" stroke-width="0.8"/><line x1="357.6" y1="181.4" x2="365.6" y2="181.4" stroke="#444" stroke-width="0.8"/><rect x="353.5" y="162.4" width="16.1" height="19.0" fill="#fff" stroke="#505050" stroke-width="0.8"/><line x1="353.5" y1="176.6" x2="369.7" y2="176.6" stroke="#111" stroke-width="1.9"/><line x1="381.8" y1="133.2" x2="381.8" y2="136.0" stroke="#555" stroke-width="0.7" stroke-dasharray="1.2,1.2"/><line x1="377.8" y1="133.2" x2="385.8" y2="133.2" stroke="#444" stroke-width="0.8"/><line x1="381.8" y1="145.5" x2="381.8" y2="148.2" stroke="#555" stroke-width="0.7" stroke-dasharray="1.2,1.2"/><line x1="377.8" y1="148.2" x2="385.8" y2="148.2" stroke="#444" stroke-width="0.8"/><rect x="373.7" y="136.0" width="16.1" height="9.5" fill="#fff" stroke="#505050" stroke-width="0.8"/><line x1="373.7" y1="142.3" x2="389.9" y2="142.3" stroke="#111" stroke-width="1.9"/><text x="381.8" y="132.0" font-size="10.5" font-weight="bold" text-anchor="middle" fill="#111">*</text><line x1="402.0" y1="144.4" x2="402.0" y2="156.7" stroke="#555" stroke-width="0.7" stroke-dasharray="1.2,1.2"/><line x1="397.9" y1="144.4" x2="406.0" y2="144.4" stroke="#444" stroke-width="0.8"/><line x1="402.0" y1="169.8" x2="402.0" y2="177.2" stroke="#555" stroke-width="0.7" stroke-dasharray="1.2,1.2"/><line x1="397.9" y1="177.2" x2="406.0" y2="177.2" stroke="#444" stroke-width="0.8"/><rect x="393.9" y="156.7" width="16.1" height="13.1" fill="#fff" stroke="#505050" stroke-width="0.8"/><line x1="393.9" y1="163.0" x2="410.1" y2="163.0" stroke="#111" stroke-width="1.9"/><circle cx="402.0" cy="190.5" r="0.8" fill="#333"/><text transform="translate(311.3,159.3) rotate(-90) scale(1,0.9)" font-size="8.4" text-anchor="middle" fill="#111" stroke="#111" stroke-width="0.12">LogFC MeanWT</text><rect x="431.2" y="120.7" width="87.8" height="71.3" fill="none" stroke="#505050" stroke-width="0.9"/><text x="470.3" y="118.3" font-size="8.3" font-style="italic" text-anchor="middle" fill="#111" stroke="#111" stroke-width="0.2">BCL2L1</text><line x1="428.4" y1="129.9" x2="431.2" y2="129.9" stroke="#444" stroke-width="0.7"/><text transform="translate(424.5,129.9) rotate(-90)" font-size="4.3" text-anchor="middle" fill="#222" stroke="#222" stroke-width="0.25">2.0</text><line x1="428.4" y1="139.5" x2="431.2" y2="139.5" stroke="#444" stroke-width="0.7"/><line x1="428.4" y1="149.1" x2="431.2" y2="149.1" stroke="#444" stroke-width="0.7"/><text transform="translate(424.5,149.1) rotate(-90)" font-size="4.3" text-anchor="middle" fill="#222" stroke="#222" stroke-width="0.25">1.0</text><line x1="428.4" y1="158.7" x2="431.2" y2="158.7" stroke="#444" stroke-width="0.7"/><line x1="428.4" y1="168.3" x2="431.2" y2="168.3" stroke="#444" stroke-width="0.7"/><text transform="translate(424.5,168.3) rotate(-90)" font-size="4.3" text-anchor="middle" fill="#222" stroke="#222" stroke-width="0.25">0.0</text><line x1="428.4" y1="177.9" x2="431.2" y2="177.9" stroke="#444" stroke-width="0.7"/><line x1="428.4" y1="187.5" x2="431.2" y2="187.5" stroke="#444" stroke-width="0.7"/><text transform="translate(424.5,187.5) rotate(-90)" font-size="4.3" text-anchor="middle" fill="#222" stroke="#222" stroke-width="0.25">-1.0</text><line x1="444.6" y1="192.0" x2="444.6" y2="194.8" stroke="#444" stroke-width="0.7"/><text x="444.6" y="203.5" font-size="8.6" text-anchor="middle" fill="#111" stroke="#111" stroke-width="0.15">P-C</text><line x1="464.9" y1="192.0" x2="464.9" y2="194.8" stroke="#444" stroke-width="0.7"/><text x="464.9" y="203.5" font-size="8.6" text-anchor="middle" fill="#111" stroke="#111" stroke-width="0.15">P-E</text><line x1="485.3" y1="192.0" x2="485.3" y2="194.8" stroke="#444" stroke-width="0.7"/><text x="485.3" y="203.5" font-size="8.6" text-anchor="middle" fill="#111" stroke="#111" stroke-width="0.15">P-J</text><line x1="505.6" y1="192.0" x2="505.6" y2="194.8" stroke="#444" stroke-width="0.7"/><text x="505.6" y="203.5" font-size="8.6" text-anchor="middle" fill="#111" stroke="#111" stroke-width="0.15">WT</text><line x1="444.6" y1="158.2" x2="444.6" y2="160.9" stroke="#555" stroke-width="0.7" stroke-dasharray="1.2,1.2"/><line x1="440.5" y1="158.2" x2="448.7" y2="158.2" stroke="#444" stroke-width="0.8"/><line x1="444.6" y1="169.4" x2="444.6" y2="172.6" stroke="#555" stroke-width="0.7" stroke-dasharray="1.2,1.2"/><line x1="440.5" y1="172.6" x2="448.7" y2="172.6" stroke="#444" stroke-width="0.8"/><rect x="436.5" y="160.9" width="16.3" height="8.5" fill="#fff" stroke="#505050" stroke-width="0.8"/><line x1="436.5" y1="165.2" x2="452.7" y2="165.2" stroke="#111" stroke-width="1.9"/><line x1="460.9" y1="137.0" x2="469.0" y2="137.0" stroke="#444" stroke-width="0.8"/><line x1="460.9" y1="159.9" x2="469.0" y2="159.9" stroke="#444" stroke-width="0.8"/><rect x="456.8" y="137.0" width="16.3" height="22.9" fill="#fff" stroke="#505050" stroke-width="0.8"/><line x1="456.8" y1="148.7" x2="473.1" y2="148.7" stroke="#111" stroke-width="1.9"/><line x1="485.3" y1="133.4" x2="485.3" y2="136.4" stroke="#555" stroke-width="0.7" stroke-dasharray="1.2,1.2"/><line x1="481.2" y1="133.4" x2="489.3" y2="133.4" stroke="#444" stroke-width="0.8"/><line x1="481.2" y1="159.2" x2="489.3" y2="159.2" stroke="#444" stroke-width="0.8"/><rect x="477.1" y="136.4" width="16.3" height="22.8" fill="#fff" stroke="#505050" stroke-width="0.8"/><line x1="477.1" y1="138.0" x2="493.4" y2="138.0" stroke="#111" stroke-width="1.9"/><text x="485.3" y="132.7" font-size="10.5" font-weight="bold" text-anchor="middle" fill="#111">*</text><line x1="505.6" y1="150.1" x2="505.6" y2="161.8" stroke="#555" stroke-width="0.7" stroke-dasharray="1.2,1.2"/><line x1="501.5" y1="150.1" x2="509.7" y2="150.1" stroke="#444" stroke-width="0.8"/><line x1="505.6" y1="175.1" x2="505.6" y2="190.0" stroke="#555" stroke-width="0.7" stroke-dasharray="1.2,1.2"/><line x1="501.5" y1="190.0" x2="509.7" y2="190.0" stroke="#444" stroke-width="0.8"/><rect x="497.5" y="161.8" width="16.3" height="13.3" fill="#fff" stroke="#505050" stroke-width="0.8"/><line x1="497.5" y1="170.4" x2="513.7" y2="170.4" stroke="#111" stroke-width="1.9"/><rect x="328.1" y="230.9" width="87.2" height="71.5" fill="none" stroke="#505050" stroke-width="0.9"/><text x="367.7" y="228.1" font-size="8.3" font-style="italic" text-anchor="middle" fill="#111" stroke="#111" stroke-width="0.2">ALOX5</text><line x1="325.3" y1="242.5" x2="328.1" y2="242.5" stroke="#444" stroke-width="0.7"/><text transform="translate(321.4,242.5) rotate(-90)" font-size="4.3" text-anchor="middle" fill="#222" stroke="#222" stroke-width="0.25">2</text><line x1="325.3" y1="256.9" x2="328.1" y2="256.9" stroke="#444" stroke-width="0.7"/><text transform="translate(321.4,256.9) rotate(-90)" font-size="4.3" text-anchor="middle" fill="#222" stroke="#222" stroke-width="0.25">0</text><line x1="325.3" y1="271.3" x2="328.1" y2="271.3" stroke="#444" stroke-width="0.7"/><text transform="translate(321.4,271.3) rotate(-90)" font-size="4.3" text-anchor="middle" fill="#222" stroke="#222" stroke-width="0.25">-2</text><line x1="325.3" y1="285.7" x2="328.1" y2="285.7" stroke="#444" stroke-width="0.7"/><text transform="translate(321.4,285.7) rotate(-90)" font-size="4.3" text-anchor="middle" fill="#222" stroke="#222" stroke-width="0.25">-4</text><line x1="325.3" y1="300.1" x2="328.1" y2="300.1" stroke="#444" stroke-width="0.7"/><text transform="translate(321.4,300.1) rotate(-90)" font-size="4.3" text-anchor="middle" fill="#222" stroke="#222" stroke-width="0.25">-6</text><line x1="341.4" y1="302.4" x2="341.4" y2="305.2" stroke="#444" stroke-width="0.7"/><text x="341.4" y="313.9" font-size="8.6" text-anchor="middle" fill="#111" stroke="#111" stroke-width="0.15">P-C</text><line x1="361.6" y1="302.4" x2="361.6" y2="305.2" stroke="#444" stroke-width="0.7"/><text x="361.6" y="313.9" font-size="8.6" text-anchor="middle" fill="#111" stroke="#111" stroke-width="0.15">P-E</text><line x1="381.8" y1="302.4" x2="381.8" y2="305.2" stroke="#444" stroke-width="0.7"/><text x="381.8" y="313.9" font-size="8.6" text-anchor="middle" fill="#111" stroke="#111" stroke-width="0.15">P-J</text><line x1="402.0" y1="302.4" x2="402.0" y2="305.2" stroke="#444" stroke-width="0.7"/><text x="402.0" y="313.9" font-size="8.6" text-anchor="middle" fill="#111" stroke="#111" stroke-width="0.15">WT</text><line x1="341.4" y1="259.0" x2="341.4" y2="261.8" stroke="#555" stroke-width="0.7" stroke-dasharray="1.2,1.2"/><line x1="337.4" y1="259.0" x2="345.5" y2="259.0" stroke="#444" stroke-width="0.8"/><line x1="337.4" y1="269.6" x2="345.5" y2="269.6" stroke="#444" stroke-width="0.8"/><rect x="333.3" y="261.8" width="16.1" height="7.8" fill="#fff" stroke="#505050" stroke-width="0.8"/><line x1="333.3" y1="264.3" x2="349.5" y2="264.3" stroke="#111" stroke-width="1.9"/><circle cx="341.4" cy="290.1" r="0.8" fill="#333"/><line x1="361.6" y1="273.2" x2="361.6" y2="277.0" stroke="#555" stroke-width="0.7" stroke-dasharray="1.2,1.2"/><line x1="357.6" y1="273.2" x2="365.6" y2="273.2" stroke="#444" stroke-width="0.8"/><line x1="361.6" y1="290.8" x2="361.6" y2="299.9" stroke="#555" stroke-width="0.7" stroke-dasharray="1.2,1.2"/><line x1="357.6" y1="299.9" x2="365.6" y2="299.9" stroke="#444" stroke-width="0.8"/><rect x="353.5" y="277.0" width="16.1" height="13.8" fill="#fff" stroke="#505050" stroke-width="0.8"/><line x1="353.5" y1="281.3" x2="369.7" y2="281.3" stroke="#111" stroke-width="1.9"/><text x="361.6" y="272.7" font-size="10.5" font-weight="bold" text-anchor="middle" fill="#111">***</text><line x1="381.8" y1="237.9" x2="381.8" y2="240.0" stroke="#555" stroke-width="0.7" stroke-dasharray="1.2,1.2"/><line x1="377.8" y1="237.9" x2="385.8" y2="237.9" stroke="#444" stroke-width="0.8"/><line x1="381.8" y1="245.7" x2="381.8" y2="248.9" stroke="#555" stroke-width="0.7" stroke-dasharray="1.2,1.2"/><line x1="377.8" y1="248.9" x2="385.8" y2="248.9" stroke="#444" stroke-width="0.8"/><rect x="373.7" y="240.0" width="16.1" height="5.7" fill="#fff" stroke="#505050" stroke-width="0.8"/><line x1="373.7" y1="242.5" x2="389.9" y2="242.5" stroke="#111" stroke-width="1.9"/><text x="381.8" y="239.3" font-size="10.5" font-weight="bold" text-anchor="middle" fill="#111">*</text><line x1="402.0" y1="244.7" x2="402.0" y2="250.2" stroke="#555" stroke-width="0.7" stroke-dasharray="1.2,1.2"/><line x1="397.9" y1="244.7" x2="406.0" y2="244.7" stroke="#444" stroke-width="0.8"/><line x1="402.0" y1="262.8" x2="402.0" y2="268.1" stroke="#555" stroke-width="0.7" stroke-dasharray="1.2,1.2"/><line x1="397.9" y1="268.1" x2="406.0" y2="268.1" stroke="#444" stroke-width="0.8"/><rect x="393.9" y="250.2" width="16.1" height="12.6" fill="#fff" stroke="#505050" stroke-width="0.8"/><line x1="393.9" y1="256.9" x2="410.1" y2="256.9" stroke="#111" stroke-width="1.9"/><text transform="translate(311.3,267.7) rotate(-90) scale(1,0.9)" font-size="8.4" text-anchor="middle" fill="#111" stroke="#111" stroke-width="0.12">LogFC MeanWT</text><rect x="431.2" y="230.4" width="87.8" height="71.9" fill="none" stroke="#505050" stroke-width="0.9"/><text x="470.3" y="228.4" font-size="8.3" font-style="italic" text-anchor="middle" fill="#111" stroke="#111" stroke-width="0.2">MSI2</text><line x1="428.4" y1="245.3" x2="431.2" y2="245.3" stroke="#444" stroke-width="0.7"/><text transform="translate(424.5,245.3) rotate(-90)" font-size="4.3" text-anchor="middle" fill="#222" stroke="#222" stroke-width="0.25">3</text><line x1="428.4" y1="260.3" x2="431.2" y2="260.3" stroke="#444" stroke-width="0.7"/><text transform="translate(424.5,260.3) rotate(-90)" font-size="4.3" text-anchor="middle" fill="#222" stroke="#222" stroke-width="0.25">2</text><line x1="428.4" y1="275.3" x2="431.2" y2="275.3" stroke="#444" stroke-width="0.7"/><text transform="translate(424.5,275.3) rotate(-90)" font-size="4.3" text-anchor="middle" fill="#222" stroke="#222" stroke-width="0.25">1</text><line x1="428.4" y1="290.3" x2="431.2" y2="290.3" stroke="#444" stroke-width="0.7"/><text transform="translate(424.5,290.3) rotate(-90)" font-size="4.3" text-anchor="middle" fill="#222" stroke="#222" stroke-width="0.25">0</text><line x1="444.6" y1="302.3" x2="444.6" y2="305.1" stroke="#444" stroke-width="0.7"/><text x="444.6" y="313.8" font-size="8.6" text-anchor="middle" fill="#111" stroke="#111" stroke-width="0.15">P-C</text><line x1="464.9" y1="302.3" x2="464.9" y2="305.1" stroke="#444" stroke-width="0.7"/><text x="464.9" y="313.8" font-size="8.6" text-anchor="middle" fill="#111" stroke="#111" stroke-width="0.15">P-E</text><line x1="485.3" y1="302.3" x2="485.3" y2="305.1" stroke="#444" stroke-width="0.7"/><text x="485.3" y="313.8" font-size="8.6" text-anchor="middle" fill="#111" stroke="#111" stroke-width="0.15">P-J</text><line x1="505.6" y1="302.3" x2="505.6" y2="305.1" stroke="#444" stroke-width="0.7"/><text x="505.6" y="313.8" font-size="8.6" text-anchor="middle" fill="#111" stroke="#111" stroke-width="0.15">WT</text><line x1="444.6" y1="253.2" x2="444.6" y2="255.1" stroke="#555" stroke-width="0.7" stroke-dasharray="1.2,1.2"/><line x1="440.5" y1="253.2" x2="448.7" y2="253.2" stroke="#444" stroke-width="0.8"/><line x1="444.6" y1="272.7" x2="444.6" y2="273.8" stroke="#555" stroke-width="0.7" stroke-dasharray="1.2,1.2"/><line x1="440.5" y1="273.8" x2="448.7" y2="273.8" stroke="#444" stroke-width="0.8"/><rect x="436.5" y="255.1" width="16.3" height="17.6" fill="#fff" stroke="#505050" stroke-width="0.8"/><line x1="436.5" y1="261.7" x2="452.7" y2="261.7" stroke="#111" stroke-width="1.9"/><text x="444.6" y="252.5" font-size="10.5" font-weight="bold" text-anchor="middle" fill="#111">***</text><line x1="464.9" y1="246.3" x2="464.9" y2="255.8" stroke="#555" stroke-width="0.7" stroke-dasharray="1.2,1.2"/><line x1="460.9" y1="246.3" x2="469.0" y2="246.3" stroke="#444" stroke-width="0.8"/><line x1="464.9" y1="272.3" x2="464.9" y2="278.0" stroke="#555" stroke-width="0.7" stroke-dasharray="1.2,1.2"/><line x1="460.9" y1="278.0" x2="469.0" y2="278.0" stroke="#444" stroke-width="0.8"/><rect x="456.8" y="255.8" width="16.3" height="16.5" fill="#fff" stroke="#505050" stroke-width="0.8"/><line x1="456.8" y1="265.3" x2="473.1" y2="265.3" stroke="#111" stroke-width="1.9"/><text x="464.9" y="246.1" font-size="10.5" font-weight="bold" text-anchor="middle" fill="#111">**</text><line x1="481.2" y1="256.4" x2="489.3" y2="256.4" stroke="#444" stroke-width="0.8"/><line x1="485.3" y1="259.4" x2="485.3" y2="261.7" stroke="#555" stroke-width="0.7" stroke-dasharray="1.2,1.2"/><line x1="481.2" y1="261.7" x2="489.3" y2="261.7" stroke="#444" stroke-width="0.8"/><rect x="477.1" y="256.4" width="16.3" height="3.0" fill="#fff" stroke="#505050" stroke-width="0.8"/><line x1="477.1" y1="257.5" x2="493.4" y2="257.5" stroke="#111" stroke-width="1.9"/><circle cx="485.3" cy="250.0" r="0.8" fill="#333"/><text x="485.3" y="249.7" font-size="10.5" font-weight="bold" text-anchor="middle" fill="#111">***</text><line x1="505.6" y1="270.2" x2="505.6" y2="284.3" stroke="#555" stroke-width="0.7" stroke-dasharray="1.2,1.2"/><line x1="501.5" y1="270.2" x2="509.7" y2="270.2" stroke="#444" stroke-width="0.8"/><line x1="505.6" y1="297.4" x2="505.6" y2="299.8" stroke="#555" stroke-width="0.7" stroke-dasharray="1.2,1.2"/><line x1="501.5" y1="299.8" x2="509.7" y2="299.8" stroke="#444" stroke-width="0.8"/><rect x="497.5" y="284.3" width="16.3" height="13.1" fill="#fff" stroke="#505050" stroke-width="0.8"/><line x1="497.5" y1="292.4" x2="513.7" y2="292.4" stroke="#111" stroke-width="1.9"/><rect x="328.2" y="349.3" width="87.1" height="72.3" fill="none" stroke="#505050" stroke-width="0.9"/><text x="368.0" y="347.1" font-size="8.3" font-style="italic" text-anchor="middle" fill="#111" stroke="#111" stroke-width="0.2">IGJ</text><line x1="325.4" y1="350.9" x2="328.2" y2="350.9" stroke="#444" stroke-width="0.7"/><text transform="translate(321.5,350.9) rotate(-90)" font-size="4.3" text-anchor="middle" fill="#222" stroke="#222" stroke-width="0.25">8</text><line x1="325.4" y1="361.7" x2="328.2" y2="361.7" stroke="#444" stroke-width="0.7"/><text transform="translate(321.5,361.7) rotate(-90)" font-size="4.3" text-anchor="middle" fill="#222" stroke="#222" stroke-width="0.25">6</text><line x1="325.4" y1="372.6" x2="328.2" y2="372.6" stroke="#444" stroke-width="0.7"/><text transform="translate(321.5,372.6) rotate(-90)" font-size="4.3" text-anchor="middle" fill="#222" stroke="#222" stroke-width="0.25">4</text><line x1="325.4" y1="383.4" x2="328.2" y2="383.4" stroke="#444" stroke-width="0.7"/><text transform="translate(321.5,383.4) rotate(-90)" font-size="4.3" text-anchor="middle" fill="#222" stroke="#222" stroke-width="0.25">2</text><line x1="325.4" y1="394.2" x2="328.2" y2="394.2" stroke="#444" stroke-width="0.7"/><text transform="translate(321.5,394.2) rotate(-90)" font-size="4.3" text-anchor="middle" fill="#222" stroke="#222" stroke-width="0.25">0</text><line x1="325.4" y1="405.0" x2="328.2" y2="405.0" stroke="#444" stroke-width="0.7"/><text transform="translate(321.5,405.0) rotate(-90)" font-size="4.3" text-anchor="middle" fill="#222" stroke="#222" stroke-width="0.25">-2</text><line x1="325.4" y1="415.8" x2="328.2" y2="415.8" stroke="#444" stroke-width="0.7"/><text transform="translate(321.5,415.8) rotate(-90)" font-size="4.3" text-anchor="middle" fill="#222" stroke="#222" stroke-width="0.25">-4</text><line x1="341.5" y1="421.6" x2="341.5" y2="424.4" stroke="#444" stroke-width="0.7"/><text x="341.5" y="433.1" font-size="8.6" text-anchor="middle" fill="#111" stroke="#111" stroke-width="0.15">P-C</text><line x1="361.7" y1="421.6" x2="361.7" y2="424.4" stroke="#444" stroke-width="0.7"/><text x="361.7" y="433.1" font-size="8.6" text-anchor="middle" fill="#111" stroke="#111" stroke-width="0.15">P-E</text><line x1="381.8" y1="421.6" x2="381.8" y2="424.4" stroke="#444" stroke-width="0.7"/><text x="381.8" y="433.1" font-size="8.6" text-anchor="middle" fill="#111" stroke="#111" stroke-width="0.15">P-J</text><line x1="402.0" y1="421.6" x2="402.0" y2="424.4" stroke="#444" stroke-width="0.7"/><text x="402.0" y="433.1" font-size="8.6" text-anchor="middle" fill="#111" stroke="#111" stroke-width="0.15">WT</text><line x1="341.5" y1="368.6" x2="341.5" y2="377.4" stroke="#555" stroke-width="0.7" stroke-dasharray="1.2,1.2"/><line x1="337.5" y1="368.6" x2="345.5" y2="368.6" stroke="#444" stroke-width="0.8"/><line x1="341.5" y1="408.6" x2="341.5" y2="415.2" stroke="#555" stroke-width="0.7" stroke-dasharray="1.2,1.2"/><line x1="337.5" y1="415.2" x2="345.5" y2="415.2" stroke="#444" stroke-width="0.8"/><rect x="333.4" y="377.4" width="16.1" height="31.2" fill="#fff" stroke="#505050" stroke-width="0.8"/><line x1="333.4" y1="392.0" x2="349.6" y2="392.0" stroke="#111" stroke-width="1.9"/><line x1="361.7" y1="396.9" x2="361.7" y2="399.0" stroke="#555" stroke-width="0.7" stroke-dasharray="1.2,1.2"/><line x1="357.6" y1="396.9" x2="365.7" y2="396.9" stroke="#444" stroke-width="0.8"/><line x1="357.6" y1="409.0" x2="365.7" y2="409.0" stroke="#444" stroke-width="0.8"/><rect x="353.6" y="399.0" width="16.1" height="10.0" fill="#fff" stroke="#505050" stroke-width="0.8"/><line x1="353.6" y1="404.0" x2="369.7" y2="404.0" stroke="#111" stroke-width="1.9"/><line x1="377.8" y1="363.0" x2="385.9" y2="363.0" stroke="#444" stroke-width="0.8"/><line x1="381.8" y1="368.6" x2="381.8" y2="369.9" stroke="#555" stroke-width="0.7" stroke-dasharray="1.2,1.2"/><line x1="377.8" y1="369.9" x2="385.9" y2="369.9" stroke="#444" stroke-width="0.8"/><rect x="373.8" y="363.0" width="16.1" height="5.6" fill="#fff" stroke="#505050" stroke-width="0.8"/><line x1="373.8" y1="363.4" x2="389.9" y2="363.4" stroke="#111" stroke-width="1.9"/><text x="381.8" y="361.6" font-size="10.5" font-weight="bold" text-anchor="middle" fill="#111">**</text><line x1="402.0" y1="372.1" x2="402.0" y2="375.4" stroke="#555" stroke-width="0.7" stroke-dasharray="1.2,1.2"/><line x1="398.0" y1="372.1" x2="406.0" y2="372.1" stroke="#444" stroke-width="0.8"/><line x1="402.0" y1="407.9" x2="402.0" y2="419.0" stroke="#555" stroke-width="0.7" stroke-dasharray="1.2,1.2"/><line x1="398.0" y1="419.0" x2="406.0" y2="419.0" stroke="#444" stroke-width="0.8"/><rect x="393.9" y="375.4" width="16.1" height="32.5" fill="#fff" stroke="#505050" stroke-width="0.8"/><line x1="393.9" y1="398.0" x2="410.1" y2="398.0" stroke="#111" stroke-width="1.9"/><text transform="translate(311.3,387.3) rotate(-90) scale(1,0.9)" font-size="8.4" text-anchor="middle" fill="#111" stroke="#111" stroke-width="0.12">LogFC MeanWT</text><rect x="431.2" y="350.0" width="87.8" height="71.3" fill="none" stroke="#505050" stroke-width="0.9"/><text x="470.3" y="346.9" font-size="8.3" font-style="italic" text-anchor="middle" fill="#111" stroke="#111" stroke-width="0.2">NEDD9</text><line x1="428.4" y1="355.0" x2="431.2" y2="355.0" stroke="#444" stroke-width="0.7"/><text transform="translate(424.5,355.0) rotate(-90)" font-size="4.3" text-anchor="middle" fill="#222" stroke="#222" stroke-width="0.25">4</text><line x1="428.4" y1="364.3" x2="431.2" y2="364.3" stroke="#444" stroke-width="0.7"/><text transform="translate(424.5,364.3) rotate(-90)" font-size="4.3" text-anchor="middle" fill="#222" stroke="#222" stroke-width="0.25">3</text><line x1="428.4" y1="373.6" x2="431.2" y2="373.6" stroke="#444" stroke-width="0.7"/><text transform="translate(424.5,373.6) rotate(-90)" font-size="4.3" text-anchor="middle" fill="#222" stroke="#222" stroke-width="0.25">2</text><line x1="428.4" y1="382.9" x2="431.2" y2="382.9" stroke="#444" stroke-width="0.7"/><text transform="translate(424.5,382.9) rotate(-90)" font-size="4.3" text-anchor="middle" fill="#222" stroke="#222" stroke-width="0.25">1</text><line x1="428.4" y1="392.2" x2="431.2" y2="392.2" stroke="#444" stroke-width="0.7"/><text transform="translate(424.5,392.2) rotate(-90)" font-size="4.3" text-anchor="middle" fill="#222" stroke="#222" stroke-width="0.25">0</text><line x1="428.4" y1="401.5" x2="431.2" y2="401.5" stroke="#444" stroke-width="0.7"/><text transform="translate(424.5,401.5) rotate(-90)" font-size="4.3" text-anchor="middle" fill="#222" stroke="#222" stroke-width="0.25">-1</text><line x1="428.4" y1="410.8" x2="431.2" y2="410.8" stroke="#444" stroke-width="0.7"/><text transform="translate(424.5,410.8) rotate(-90)" font-size="4.3" text-anchor="middle" fill="#222" stroke="#222" stroke-width="0.25">-2</text><line x1="428.4" y1="420.1" x2="431.2" y2="420.1" stroke="#444" stroke-width="0.7"/><text transform="translate(424.5,420.1) rotate(-90)" font-size="4.3" text-anchor="middle" fill="#222" stroke="#222" stroke-width="0.25">-3</text><line x1="444.6" y1="421.3" x2="444.6" y2="424.1" stroke="#444" stroke-width="0.7"/><text x="444.6" y="432.8" font-size="8.6" text-anchor="middle" fill="#111" stroke="#111" stroke-width="0.15">P-C</text><line x1="464.9" y1="421.3" x2="464.9" y2="424.1" stroke="#444" stroke-width="0.7"/><text x="464.9" y="432.8" font-size="8.6" text-anchor="middle" fill="#111" stroke="#111" stroke-width="0.15">P-E</text><line x1="485.3" y1="421.3" x2="485.3" y2="424.1" stroke="#444" stroke-width="0.7"/><text x="485.3" y="432.8" font-size="8.6" text-anchor="middle" fill="#111" stroke="#111" stroke-width="0.15">P-J</text><line x1="505.6" y1="421.3" x2="505.6" y2="424.1" stroke="#444" stroke-width="0.7"/><text x="505.6" y="432.8" font-size="8.6" text-anchor="middle" fill="#111" stroke="#111" stroke-width="0.15">WT</text><line x1="444.6" y1="375.3" x2="444.6" y2="382.1" stroke="#555" stroke-width="0.7" stroke-dasharray="1.2,1.2"/><line x1="440.5" y1="375.3" x2="448.7" y2="375.3" stroke="#444" stroke-width="0.8"/><line x1="444.6" y1="402.2" x2="444.6" y2="417.4" stroke="#555" stroke-width="0.7" stroke-dasharray="1.2,1.2"/><line x1="440.5" y1="417.4" x2="448.7" y2="417.4" stroke="#444" stroke-width="0.8"/><rect x="436.5" y="382.1" width="16.3" height="20.1" fill="#fff" stroke="#505050" stroke-width="0.8"/><line x1="436.5" y1="399.5" x2="452.7" y2="399.5" stroke="#111" stroke-width="1.9"/><line x1="464.9" y1="407.1" x2="464.9" y2="411.3" stroke="#555" stroke-width="0.7" stroke-dasharray="1.2,1.2"/><line x1="460.9" y1="407.1" x2="469.0" y2="407.1" stroke="#444" stroke-width="0.8"/><line x1="464.9" y1="417.4" x2="464.9" y2="418.2" stroke="#555" stroke-width="0.7" stroke-dasharray="1.2,1.2"/><line x1="460.9" y1="418.2" x2="469.0" y2="418.2" stroke="#444" stroke-width="0.8"/><rect x="456.8" y="411.3" width="16.3" height="6.1" fill="#fff" stroke="#505050" stroke-width="0.8"/><line x1="456.8" y1="416.0" x2="473.1" y2="416.0" stroke="#111" stroke-width="1.9"/><text x="464.9" y="406.8" font-size="10.5" font-weight="bold" text-anchor="middle" fill="#111">**</text><line x1="481.2" y1="361.4" x2="489.3" y2="361.4" stroke="#444" stroke-width="0.8"/><line x1="485.3" y1="381.1" x2="485.3" y2="392.3" stroke="#555" stroke-width="0.7" stroke-dasharray="1.2,1.2"/><line x1="481.2" y1="392.3" x2="489.3" y2="392.3" stroke="#444" stroke-width="0.8"/><rect x="477.1" y="361.4" width="16.3" height="19.7" fill="#fff" stroke="#505050" stroke-width="0.8"/><line x1="477.1" y1="364.1" x2="493.4" y2="364.1" stroke="#111" stroke-width="1.9"/><text x="485.3" y="360.2" font-size="10.5" font-weight="bold" text-anchor="middle" fill="#111">**</text><line x1="505.6" y1="379.6" x2="505.6" y2="383.6" stroke="#555" stroke-width="0.7" stroke-dasharray="1.2,1.2"/><line x1="501.5" y1="379.6" x2="509.7" y2="379.6" stroke="#444" stroke-width="0.8"/><line x1="505.6" y1="398.0" x2="505.6" y2="410.7" stroke="#555" stroke-width="0.7" stroke-dasharray="1.2,1.2"/><line x1="501.5" y1="410.7" x2="509.7" y2="410.7" stroke="#444" stroke-width="0.8"/><rect x="497.5" y="383.6" width="16.3" height="14.4" fill="#fff" stroke="#505050" stroke-width="0.8"/><line x1="497.5" y1="393.8" x2="513.7" y2="393.8" stroke="#111" stroke-width="1.9"/><rect x="328.2" y="457.8" width="87.1" height="72.3" fill="none" stroke="#505050" stroke-width="0.9"/><text x="368.0" y="456.0" font-size="8.3" font-style="italic" text-anchor="middle" fill="#111" stroke="#111" stroke-width="0.2">CD19</text><line x1="325.4" y1="468.2" x2="328.2" y2="468.2" stroke="#444" stroke-width="0.7"/><text transform="translate(321.5,468.2) rotate(-90)" font-size="4.3" text-anchor="middle" fill="#222" stroke="#222" stroke-width="0.25">1.5</text><line x1="325.4" y1="480.0" x2="328.2" y2="480.0" stroke="#444" stroke-width="0.7"/><text transform="translate(321.5,480.0) rotate(-90)" font-size="4.3" text-anchor="middle" fill="#222" stroke="#222" stroke-width="0.25">1.0</text><line x1="325.4" y1="491.8" x2="328.2" y2="491.8" stroke="#444" stroke-width="0.7"/><text transform="translate(321.5,491.8) rotate(-90)" font-size="4.3" text-anchor="middle" fill="#222" stroke="#222" stroke-width="0.25">0.5</text><line x1="325.4" y1="503.6" x2="328.2" y2="503.6" stroke="#444" stroke-width="0.7"/><text transform="translate(321.5,503.6) rotate(-90)" font-size="4.3" text-anchor="middle" fill="#222" stroke="#222" stroke-width="0.25">0.0</text><line x1="325.4" y1="515.4" x2="328.2" y2="515.4" stroke="#444" stroke-width="0.7"/><text transform="translate(321.5,515.4) rotate(-90)" font-size="4.3" text-anchor="middle" fill="#222" stroke="#222" stroke-width="0.25">-0.5</text><line x1="325.4" y1="527.2" x2="328.2" y2="527.2" stroke="#444" stroke-width="0.7"/><text transform="translate(321.5,527.2) rotate(-90)" font-size="4.3" text-anchor="middle" fill="#222" stroke="#222" stroke-width="0.25">-1.0</text><line x1="341.5" y1="530.1" x2="341.5" y2="532.9" stroke="#444" stroke-width="0.7"/><text x="341.5" y="541.6" font-size="8.6" text-anchor="middle" fill="#111" stroke="#111" stroke-width="0.15">P-C</text><line x1="361.7" y1="530.1" x2="361.7" y2="532.9" stroke="#444" stroke-width="0.7"/><text x="361.7" y="541.6" font-size="8.6" text-anchor="middle" fill="#111" stroke="#111" stroke-width="0.15">P-E</text><line x1="381.8" y1="530.1" x2="381.8" y2="532.9" stroke="#444" stroke-width="0.7"/><text x="381.8" y="541.6" font-size="8.6" text-anchor="middle" fill="#111" stroke="#111" stroke-width="0.15">P-J</text><line x1="402.0" y1="530.1" x2="402.0" y2="532.9" stroke="#444" stroke-width="0.7"/><text x="402.0" y="541.6" font-size="8.6" text-anchor="middle" fill="#111" stroke="#111" stroke-width="0.15">WT</text><line x1="341.5" y1="472.6" x2="341.5" y2="492.0" stroke="#555" stroke-width="0.7" stroke-dasharray="1.2,1.2"/><line x1="337.5" y1="472.6" x2="345.5" y2="472.6" stroke="#444" stroke-width="0.8"/><line x1="341.5" y1="509.7" x2="341.5" y2="515.7" stroke="#555" stroke-width="0.7" stroke-dasharray="1.2,1.2"/><line x1="337.5" y1="515.7" x2="345.5" y2="515.7" stroke="#444" stroke-width="0.8"/><rect x="333.4" y="492.0" width="16.1" height="17.7" fill="#fff" stroke="#505050" stroke-width="0.8"/><line x1="333.4" y1="498.0" x2="349.6" y2="498.0" stroke="#111" stroke-width="1.9"/><line x1="361.7" y1="470.0" x2="361.7" y2="474.8" stroke="#555" stroke-width="0.7" stroke-dasharray="1.2,1.2"/><line x1="357.6" y1="470.0" x2="365.7" y2="470.0" stroke="#444" stroke-width="0.8"/><line x1="361.7" y1="490.3" x2="361.7" y2="492.0" stroke="#555" stroke-width="0.7" stroke-dasharray="1.2,1.2"/><line x1="357.6" y1="492.0" x2="365.7" y2="492.0" stroke="#444" stroke-width="0.8"/><rect x="353.6" y="474.8" width="16.1" height="15.5" fill="#fff" stroke="#505050" stroke-width="0.8"/><line x1="353.6" y1="483.0" x2="369.7" y2="483.0" stroke="#111" stroke-width="1.9"/><line x1="381.8" y1="478.1" x2="381.8" y2="484.1" stroke="#555" stroke-width="0.7" stroke-dasharray="1.2,1.2"/><line x1="377.8" y1="478.1" x2="385.9" y2="478.1" stroke="#444" stroke-width="0.8"/><line x1="381.8" y1="500.9" x2="381.8" y2="508.0" stroke="#555" stroke-width="0.7" stroke-dasharray="1.2,1.2"/><line x1="377.8" y1="508.0" x2="385.9" y2="508.0" stroke="#444" stroke-width="0.8"/><rect x="373.8" y="484.1" width="16.1" height="16.8" fill="#fff" stroke="#505050" stroke-width="0.8"/><line x1="373.8" y1="487.0" x2="389.9" y2="487.0" stroke="#111" stroke-width="1.9"/><line x1="402.0" y1="477.0" x2="402.0" y2="493.6" stroke="#555" stroke-width="0.7" stroke-dasharray="1.2,1.2"/><line x1="398.0" y1="477.0" x2="406.0" y2="477.0" stroke="#444" stroke-width="0.8"/><line x1="402.0" y1="516.4" x2="402.0" y2="526.8" stroke="#555" stroke-width="0.7" stroke-dasharray="1.2,1.2"/><line x1="398.0" y1="526.8" x2="406.0" y2="526.8" stroke="#444" stroke-width="0.8"/><rect x="393.9" y="493.6" width="16.1" height="22.8" fill="#fff" stroke="#505050" stroke-width="0.8"/><line x1="393.9" y1="501.3" x2="410.1" y2="501.3" stroke="#111" stroke-width="1.9"/><text transform="translate(311.3,495.6) rotate(-90) scale(1,0.9)" font-size="8.4" text-anchor="middle" fill="#111" stroke="#111" stroke-width="0.12">LogFC MeanWT</text><rect x="431.2" y="458.9" width="87.8" height="72.1" fill="none" stroke="#505050" stroke-width="0.9"/><text x="470.3" y="456.7" font-size="8.3" font-style="italic" text-anchor="middle" fill="#111" stroke="#111" stroke-width="0.2">CD79A</text><line x1="428.4" y1="460.0" x2="431.2" y2="460.0" stroke="#444" stroke-width="0.7"/><text transform="translate(424.5,460.0) rotate(-90)" font-size="4.3" text-anchor="middle" fill="#222" stroke="#222" stroke-width="0.25">3</text><line x1="428.4" y1="474.2" x2="431.2" y2="474.2" stroke="#444" stroke-width="0.7"/><text transform="translate(424.5,474.2) rotate(-90)" font-size="4.3" text-anchor="middle" fill="#222" stroke="#222" stroke-width="0.25">2</text><line x1="428.4" y1="488.4" x2="431.2" y2="488.4" stroke="#444" stroke-width="0.7"/><text transform="translate(424.5,488.4) rotate(-90)" font-size="4.3" text-anchor="middle" fill="#222" stroke="#222" stroke-width="0.25">1</text><line x1="428.4" y1="502.6" x2="431.2" y2="502.6" stroke="#444" stroke-width="0.7"/><text transform="translate(424.5,502.6) rotate(-90)" font-size="4.3" text-anchor="middle" fill="#222" stroke="#222" stroke-width="0.25">0</text><line x1="428.4" y1="516.8" x2="431.2" y2="516.8" stroke="#444" stroke-width="0.7"/><text transform="translate(424.5,516.8) rotate(-90)" font-size="4.3" text-anchor="middle" fill="#222" stroke="#222" stroke-width="0.25">-1</text><line x1="428.4" y1="531.0" x2="431.2" y2="531.0" stroke="#444" stroke-width="0.7"/><text transform="translate(424.5,531.0) rotate(-90)" font-size="4.3" text-anchor="middle" fill="#222" stroke="#222" stroke-width="0.25">-2</text><line x1="444.6" y1="531.0" x2="444.6" y2="533.8" stroke="#444" stroke-width="0.7"/><text x="444.6" y="542.5" font-size="8.6" text-anchor="middle" fill="#111" stroke="#111" stroke-width="0.15">P-C</text><line x1="464.9" y1="531.0" x2="464.9" y2="533.8" stroke="#444" stroke-width="0.7"/><text x="464.9" y="542.5" font-size="8.6" text-anchor="middle" fill="#111" stroke="#111" stroke-width="0.15">P-E</text><line x1="485.3" y1="531.0" x2="485.3" y2="533.8" stroke="#444" stroke-width="0.7"/><text x="485.3" y="542.5" font-size="8.6" text-anchor="middle" fill="#111" stroke="#111" stroke-width="0.15">P-J</text><line x1="505.6" y1="531.0" x2="505.6" y2="533.8" stroke="#444" stroke-width="0.7"/><text x="505.6" y="542.5" font-size="8.6" text-anchor="middle" fill="#111" stroke="#111" stroke-width="0.15">WT</text><line x1="444.6" y1="494.2" x2="444.6" y2="494.9" stroke="#555" stroke-width="0.7" stroke-dasharray="1.2,1.2"/><line x1="440.5" y1="494.2" x2="448.7" y2="494.2" stroke="#444" stroke-width="0.8"/><line x1="444.6" y1="512.6" x2="444.6" y2="528.1" stroke="#555" stroke-width="0.7" stroke-dasharray="1.2,1.2"/><line x1="440.5" y1="528.1" x2="448.7" y2="528.1" stroke="#444" stroke-width="0.8"/><rect x="436.5" y="494.9" width="16.3" height="17.7" fill="#fff" stroke="#505050" stroke-width="0.8"/><line x1="436.5" y1="497.0" x2="452.7" y2="497.0" stroke="#111" stroke-width="1.9"/><line x1="464.9" y1="474.6" x2="464.9" y2="477.3" stroke="#555" stroke-width="0.7" stroke-dasharray="1.2,1.2"/><line x1="460.9" y1="474.6" x2="469.0" y2="474.6" stroke="#444" stroke-width="0.8"/><line x1="464.9" y1="496.3" x2="464.9" y2="500.2" stroke="#555" stroke-width="0.7" stroke-dasharray="1.2,1.2"/><line x1="460.9" y1="500.2" x2="469.0" y2="500.2" stroke="#444" stroke-width="0.8"/><rect x="456.8" y="477.3" width="16.3" height="19.0" fill="#fff" stroke="#505050" stroke-width="0.8"/><line x1="456.8" y1="485.8" x2="473.1" y2="485.8" stroke="#111" stroke-width="1.9"/><line x1="485.3" y1="471.4" x2="485.3" y2="479.8" stroke="#555" stroke-width="0.7" stroke-dasharray="1.2,1.2"/><line x1="481.2" y1="471.4" x2="489.3" y2="471.4" stroke="#444" stroke-width="0.8"/><line x1="485.3" y1="487.5" x2="485.3" y2="490.4" stroke="#555" stroke-width="0.7" stroke-dasharray="1.2,1.2"/><line x1="481.2" y1="490.4" x2="489.3" y2="490.4" stroke="#444" stroke-width="0.8"/><rect x="477.1" y="479.8" width="16.3" height="7.7" fill="#fff" stroke="#505050" stroke-width="0.8"/><line x1="477.1" y1="482.0" x2="493.4" y2="482.0" stroke="#111" stroke-width="1.9"/><text x="485.3" y="470.6" font-size="10.5" font-weight="bold" text-anchor="middle" fill="#111">*</text><line x1="505.6" y1="489.6" x2="505.6" y2="493.2" stroke="#555" stroke-width="0.7" stroke-dasharray="1.2,1.2"/><line x1="501.5" y1="489.6" x2="509.7" y2="489.6" stroke="#444" stroke-width="0.8"/><line x1="505.6" y1="509.0" x2="505.6" y2="526.0" stroke="#555" stroke-width="0.7" stroke-dasharray="1.2,1.2"/><line x1="501.5" y1="526.0" x2="509.7" y2="526.0" stroke="#444" stroke-width="0.8"/><rect x="497.5" y="493.2" width="16.3" height="15.8" fill="#fff" stroke="#505050" stroke-width="0.8"/><line x1="497.5" y1="502.7" x2="513.7" y2="502.7" stroke="#111" stroke-width="1.9"/><rect x="328.2" y="567.6" width="87.1" height="71.4" fill="none" stroke="#505050" stroke-width="0.9"/><text x="366.9" y="566.0" font-size="8.3" font-style="italic" text-anchor="middle" fill="#111" stroke="#111" stroke-width="0.2">EBF1</text><line x1="325.4" y1="571.0" x2="328.2" y2="571.0" stroke="#444" stroke-width="0.7"/><text transform="translate(321.5,571.0) rotate(-90)" font-size="4.3" text-anchor="middle" fill="#222" stroke="#222" stroke-width="0.25">3</text><line x1="325.4" y1="583.7" x2="328.2" y2="583.7" stroke="#444" stroke-width="0.7"/><text transform="translate(321.5,583.7) rotate(-90)" font-size="4.3" text-anchor="middle" fill="#222" stroke="#222" stroke-width="0.25">2</text><line x1="325.4" y1="596.4" x2="328.2" y2="596.4" stroke="#444" stroke-width="0.7"/><text transform="translate(321.5,596.4) rotate(-90)" font-size="4.3" text-anchor="middle" fill="#222" stroke="#222" stroke-width="0.25">1</text><line x1="325.4" y1="609.1" x2="328.2" y2="609.1" stroke="#444" stroke-width="0.7"/><text transform="translate(321.5,609.1) rotate(-90)" font-size="4.3" text-anchor="middle" fill="#222" stroke="#222" stroke-width="0.25">0</text><line x1="325.4" y1="621.8" x2="328.2" y2="621.8" stroke="#444" stroke-width="0.7"/><text transform="translate(321.5,621.8) rotate(-90)" font-size="4.3" text-anchor="middle" fill="#222" stroke="#222" stroke-width="0.25">-1</text><line x1="325.4" y1="634.5" x2="328.2" y2="634.5" stroke="#444" stroke-width="0.7"/><text transform="translate(321.5,634.5) rotate(-90)" font-size="4.3" text-anchor="middle" fill="#222" stroke="#222" stroke-width="0.25">-2</text><line x1="341.5" y1="639.0" x2="341.5" y2="641.8" stroke="#444" stroke-width="0.7"/><text x="341.5" y="650.5" font-size="8.6" text-anchor="middle" fill="#111" stroke="#111" stroke-width="0.15">P-C</text><line x1="361.7" y1="639.0" x2="361.7" y2="641.8" stroke="#444" stroke-width="0.7"/><text x="361.7" y="650.5" font-size="8.6" text-anchor="middle" fill="#111" stroke="#111" stroke-width="0.15">P-E</text><line x1="381.8" y1="639.0" x2="381.8" y2="641.8" stroke="#444" stroke-width="0.7"/><text x="381.8" y="650.5" font-size="8.6" text-anchor="middle" fill="#111" stroke="#111" stroke-width="0.15">P-J</text><line x1="402.0" y1="639.0" x2="402.0" y2="641.8" stroke="#444" stroke-width="0.7"/><text x="402.0" y="650.5" font-size="8.6" text-anchor="middle" fill="#111" stroke="#111" stroke-width="0.15">WT</text><line x1="341.5" y1="579.7" x2="341.5" y2="592.1" stroke="#555" stroke-width="0.7" stroke-dasharray="1.2,1.2"/><line x1="337.5" y1="579.7" x2="345.5" y2="579.7" stroke="#444" stroke-width="0.8"/><line x1="341.5" y1="608.5" x2="341.5" y2="624.0" stroke="#555" stroke-width="0.7" stroke-dasharray="1.2,1.2"/><line x1="337.5" y1="624.0" x2="345.5" y2="624.0" stroke="#444" stroke-width="0.8"/><rect x="333.4" y="592.1" width="16.1" height="16.4" fill="#fff" stroke="#505050" stroke-width="0.8"/><line x1="333.4" y1="596.3" x2="349.6" y2="596.3" stroke="#111" stroke-width="1.9"/><line x1="361.7" y1="578.8" x2="361.7" y2="583.7" stroke="#555" stroke-width="0.7" stroke-dasharray="1.2,1.2"/><line x1="357.6" y1="578.8" x2="365.7" y2="578.8" stroke="#444" stroke-width="0.8"/><line x1="361.7" y1="622.8" x2="361.7" y2="630.1" stroke="#555" stroke-width="0.7" stroke-dasharray="1.2,1.2"/><line x1="357.6" y1="630.1" x2="365.7" y2="630.1" stroke="#444" stroke-width="0.8"/><rect x="353.6" y="583.7" width="16.1" height="39.1" fill="#fff" stroke="#505050" stroke-width="0.8"/><line x1="353.6" y1="601.8" x2="369.7" y2="601.8" stroke="#111" stroke-width="1.9"/><line x1="381.8" y1="588.1" x2="381.8" y2="595.9" stroke="#555" stroke-width="0.7" stroke-dasharray="1.2,1.2"/><line x1="377.8" y1="588.1" x2="385.9" y2="588.1" stroke="#444" stroke-width="0.8"/><line x1="381.8" y1="609.1" x2="381.8" y2="614.2" stroke="#555" stroke-width="0.7" stroke-dasharray="1.2,1.2"/><line x1="377.8" y1="614.2" x2="385.9" y2="614.2" stroke="#444" stroke-width="0.8"/><rect x="373.8" y="595.9" width="16.1" height="13.2" fill="#fff" stroke="#505050" stroke-width="0.8"/><line x1="373.8" y1="600.3" x2="389.9" y2="600.3" stroke="#111" stroke-width="1.9"/><line x1="402.0" y1="581.0" x2="402.0" y2="593.2" stroke="#555" stroke-width="0.7" stroke-dasharray="1.2,1.2"/><line x1="398.0" y1="581.0" x2="406.0" y2="581.0" stroke="#444" stroke-width="0.8"/><line x1="402.0" y1="626.4" x2="402.0" y2="636.3" stroke="#555" stroke-width="0.7" stroke-dasharray="1.2,1.2"/><line x1="398.0" y1="636.3" x2="406.0" y2="636.3" stroke="#444" stroke-width="0.8"/><rect x="393.9" y="593.2" width="16.1" height="33.2" fill="#fff" stroke="#505050" stroke-width="0.8"/><line x1="393.9" y1="605.8" x2="410.1" y2="605.8" stroke="#111" stroke-width="1.9"/><text transform="translate(311.3,605.5) rotate(-90) scale(1,0.9)" font-size="8.4" text-anchor="middle" fill="#111" stroke="#111" stroke-width="0.12">LogFC MeanWT</text><rect x="430.7" y="568.3" width="88.3" height="72.3" fill="none" stroke="#505050" stroke-width="0.9"/><text x="469.9" y="565.9" font-size="8.3" font-style="italic" text-anchor="middle" fill="#111" stroke="#111" stroke-width="0.2">RAG1</text><line x1="427.9" y1="581.6" x2="430.7" y2="581.6" stroke="#444" stroke-width="0.7"/><text transform="translate(424.0,581.6) rotate(-90)" font-size="4.3" text-anchor="middle" fill="#222" stroke="#222" stroke-width="0.25">4</text><line x1="427.9" y1="598.2" x2="430.7" y2="598.2" stroke="#444" stroke-width="0.7"/><text transform="translate(424.0,598.2) rotate(-90)" font-size="4.3" text-anchor="middle" fill="#222" stroke="#222" stroke-width="0.25">2</text><line x1="427.9" y1="614.8" x2="430.7" y2="614.8" stroke="#444" stroke-width="0.7"/><text transform="translate(424.0,614.8) rotate(-90)" font-size="4.3" text-anchor="middle" fill="#222" stroke="#222" stroke-width="0.25">0</text><line x1="427.9" y1="631.4" x2="430.7" y2="631.4" stroke="#444" stroke-width="0.7"/><text transform="translate(424.0,631.4) rotate(-90)" font-size="4.3" text-anchor="middle" fill="#222" stroke="#222" stroke-width="0.25">-2</text><line x1="444.2" y1="640.6" x2="444.2" y2="643.4" stroke="#444" stroke-width="0.7"/><text x="444.2" y="652.1" font-size="8.6" text-anchor="middle" fill="#111" stroke="#111" stroke-width="0.15">P-C</text><line x1="464.6" y1="640.6" x2="464.6" y2="643.4" stroke="#444" stroke-width="0.7"/><text x="464.6" y="652.1" font-size="8.6" text-anchor="middle" fill="#111" stroke="#111" stroke-width="0.15">P-E</text><line x1="485.1" y1="640.6" x2="485.1" y2="643.4" stroke="#444" stroke-width="0.7"/><text x="485.1" y="652.1" font-size="8.6" text-anchor="middle" fill="#111" stroke="#111" stroke-width="0.15">P-J</text><line x1="505.5" y1="640.6" x2="505.5" y2="643.4" stroke="#444" stroke-width="0.7"/><text x="505.5" y="652.1" font-size="8.6" text-anchor="middle" fill="#111" stroke="#111" stroke-width="0.15">WT</text><line x1="444.2" y1="593.2" x2="444.2" y2="595.1" stroke="#555" stroke-width="0.7" stroke-dasharray="1.2,1.2"/><line x1="440.1" y1="593.2" x2="448.3" y2="593.2" stroke="#444" stroke-width="0.8"/><line x1="444.2" y1="624.8" x2="444.2" y2="630.3" stroke="#555" stroke-width="0.7" stroke-dasharray="1.2,1.2"/><line x1="440.1" y1="630.3" x2="448.3" y2="630.3" stroke="#444" stroke-width="0.8"/><rect x="436.0" y="595.1" width="16.4" height="29.7" fill="#fff" stroke="#505050" stroke-width="0.8"/><line x1="436.0" y1="603.8" x2="452.4" y2="603.8" stroke="#111" stroke-width="1.9"/><line x1="460.5" y1="615.2" x2="468.7" y2="615.2" stroke="#444" stroke-width="0.8"/><line x1="464.6" y1="626.0" x2="464.6" y2="633.9" stroke="#555" stroke-width="0.7" stroke-dasharray="1.2,1.2"/><line x1="460.5" y1="633.9" x2="468.7" y2="633.9" stroke="#444" stroke-width="0.8"/><rect x="456.5" y="615.2" width="16.4" height="10.8" fill="#fff" stroke="#505050" stroke-width="0.8"/><line x1="456.5" y1="616.9" x2="472.8" y2="616.9" stroke="#111" stroke-width="1.9"/><line x1="485.1" y1="581.4" x2="485.1" y2="587.3" stroke="#555" stroke-width="0.7" stroke-dasharray="1.2,1.2"/><line x1="481.0" y1="581.4" x2="489.2" y2="581.4" stroke="#444" stroke-width="0.8"/><line x1="481.0" y1="593.7" x2="489.2" y2="593.7" stroke="#444" stroke-width="0.8"/><rect x="476.9" y="587.3" width="16.4" height="6.4" fill="#fff" stroke="#505050" stroke-width="0.8"/><line x1="476.9" y1="588.4" x2="493.2" y2="588.4" stroke="#111" stroke-width="1.9"/><text x="485.1" y="580.6" font-size="10.5" font-weight="bold" text-anchor="middle" fill="#111">**</text><line x1="505.5" y1="593.7" x2="505.5" y2="602.1" stroke="#555" stroke-width="0.7" stroke-dasharray="1.2,1.2"/><line x1="501.4" y1="593.7" x2="509.6" y2="593.7" stroke="#444" stroke-width="0.8"/><line x1="505.5" y1="623.3" x2="505.5" y2="637.7" stroke="#555" stroke-width="0.7" stroke-dasharray="1.2,1.2"/><line x1="501.4" y1="637.7" x2="509.6" y2="637.7" stroke="#444" stroke-width="0.8"/><rect x="497.3" y="602.1" width="16.4" height="21.2" fill="#fff" stroke="#505050" stroke-width="0.8"/><line x1="497.3" y1="613.8" x2="513.7" y2="613.8" stroke="#111" stroke-width="1.9"/>
</svg>
</body></html>
